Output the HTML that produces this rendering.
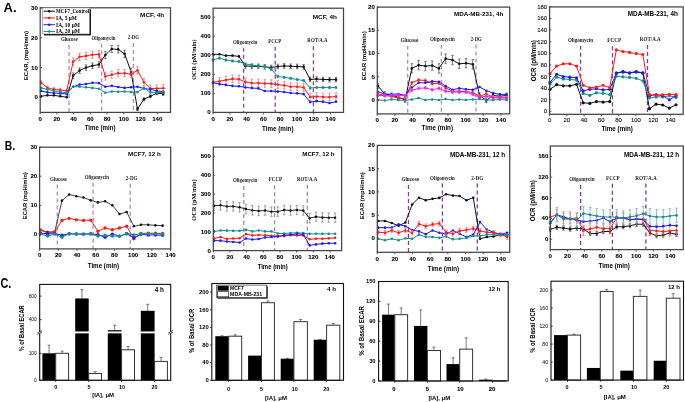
<!DOCTYPE html><html><head><meta charset="utf-8"><style>html,body{margin:0;padding:0;background:#fff;overflow:hidden}svg{display:block;will-change:transform}</style></head><body>
<svg width="685" height="402" viewBox="0 0 685 402">
<rect width="685" height="402" fill="#fff"/>
<text x="3.6" y="11.9" font-size="13" text-anchor="start" font-weight="bold" font-family='"Liberation Sans", sans-serif' fill="#000">A.</text>
<text x="4.8" y="150.2" font-size="13.2" text-anchor="start" font-weight="bold" font-family='"Liberation Sans", sans-serif' fill="#000" textLength="10.4" lengthAdjust="spacingAndGlyphs">B.</text>
<text x="0.4" y="287.6" font-size="13.8" text-anchor="start" font-weight="bold" font-family='"Liberation Sans", sans-serif' fill="#000" textLength="10.9" lengthAdjust="spacingAndGlyphs">C.</text>
<line x1="69" y1="45" x2="69" y2="112.4" stroke="#b088c8" stroke-width="1.3" stroke-dasharray="4 3"/>
<text x="69.25" y="41.1" font-size="5.1" text-anchor="middle" font-weight="bold" font-family='"Liberation Serif", serif' fill="#1a1a1a" textLength="16.7" lengthAdjust="spacingAndGlyphs">Glucose</text>
<line x1="101.6" y1="43.6" x2="101.6" y2="112.4" stroke="#b088c8" stroke-width="1.3" stroke-dasharray="4 3"/>
<text x="103.5" y="39.7" font-size="5.1" text-anchor="middle" font-weight="bold" font-family='"Liberation Serif", serif' fill="#1a1a1a" textLength="23.9" lengthAdjust="spacingAndGlyphs">Oligomycin</text>
<line x1="133.4" y1="43.1" x2="133.4" y2="112.4" stroke="#b088c8" stroke-width="1.3" stroke-dasharray="4 3"/>
<text x="133.4" y="39.2" font-size="5.1" text-anchor="middle" font-weight="bold" font-family='"Liberation Serif", serif' fill="#1a1a1a" textLength="11.4" lengthAdjust="spacingAndGlyphs">2-DG</text>
<path d="M73.16 72.95V78.33M71.96 72.95h2.4M71.96 78.33h2.4" stroke="#555555" stroke-width="0.8" fill="none"/>
<path d="M79.59 67.87V73.25M78.39 67.87h2.4M78.39 73.25h2.4" stroke="#555555" stroke-width="0.8" fill="none"/>
<path d="M86.02 64.88V70.26M84.82 64.88h2.4M84.82 70.26h2.4" stroke="#555555" stroke-width="0.8" fill="none"/>
<path d="M92.45 63.09V68.47M91.25 63.09h2.4M91.25 68.47h2.4" stroke="#555555" stroke-width="0.8" fill="none"/>
<path d="M98.88 61.89V67.27M97.68 61.89h2.4M97.68 67.27h2.4" stroke="#555555" stroke-width="0.8" fill="none"/>
<path d="M105.32 51.43V58.61M104.12 51.43h2.4M104.12 58.61h2.4" stroke="#555555" stroke-width="0.8" fill="none"/>
<path d="M111.75 45.46V52.63M110.55 45.46h2.4M110.55 52.63h2.4" stroke="#555555" stroke-width="0.8" fill="none"/>
<path d="M118.18 45.75V52.93M116.98 45.75h2.4M116.98 52.93h2.4" stroke="#555555" stroke-width="0.8" fill="none"/>
<path d="M124.61 50.24V57.41M123.41 50.24h2.4M123.41 57.41h2.4" stroke="#555555" stroke-width="0.8" fill="none"/>
<path d="M131.04 68.17V75.34M129.84 68.17h2.4M129.84 75.34h2.4" stroke="#555555" stroke-width="0.8" fill="none"/>
<path d="M137.47 107.62V110.61M136.27 107.62h2.4M136.27 110.61h2.4" stroke="#555555" stroke-width="0.8" fill="none"/>
<path d="M143.91 97.76V100.74M142.71 97.76h2.4M142.71 100.74h2.4" stroke="#555555" stroke-width="0.8" fill="none"/>
<path d="M150.34 94.77V97.76M149.14 94.77h2.4M149.14 97.76h2.4" stroke="#555555" stroke-width="0.8" fill="none"/>
<path d="M156.77 91.78V94.77M155.57 91.78h2.4M155.57 94.77h2.4" stroke="#555555" stroke-width="0.8" fill="none"/>
<path d="M163.2 92.38V95.37M162 92.38h2.4M162 95.37h2.4" stroke="#555555" stroke-width="0.8" fill="none"/>
<path d="M41 96.26 L47.43 95.37 L53.86 95.37 L60.29 96.26 L66.73 97.25 L73.16 75.64 L79.59 70.56 L86.02 67.57 L92.45 65.78 L98.88 64.58 L105.32 55.02 L111.75 49.04 L118.18 49.34 L124.61 53.82 L131.04 71.76 L137.47 109.11 L143.91 99.25 L150.34 96.26 L156.77 93.27 L163.2 93.87" stroke="#111111" stroke-width="1" fill="none"/>
<circle cx="41" cy="96.26" r="1.3" fill="#111111"/>
<circle cx="47.43" cy="95.37" r="1.3" fill="#111111"/>
<circle cx="53.86" cy="95.37" r="1.3" fill="#111111"/>
<circle cx="60.29" cy="96.26" r="1.3" fill="#111111"/>
<circle cx="66.73" cy="97.25" r="1.3" fill="#111111"/>
<circle cx="73.16" cy="75.64" r="1.3" fill="#111111"/>
<circle cx="79.59" cy="70.56" r="1.3" fill="#111111"/>
<circle cx="86.02" cy="67.57" r="1.3" fill="#111111"/>
<circle cx="92.45" cy="65.78" r="1.3" fill="#111111"/>
<circle cx="98.88" cy="64.58" r="1.3" fill="#111111"/>
<circle cx="105.32" cy="55.02" r="1.3" fill="#111111"/>
<circle cx="111.75" cy="49.04" r="1.3" fill="#111111"/>
<circle cx="118.18" cy="49.34" r="1.3" fill="#111111"/>
<circle cx="124.61" cy="53.82" r="1.3" fill="#111111"/>
<circle cx="131.04" cy="71.76" r="1.3" fill="#111111"/>
<circle cx="137.47" cy="109.11" r="1.3" fill="#111111"/>
<circle cx="143.91" cy="99.25" r="1.3" fill="#111111"/>
<circle cx="150.34" cy="96.26" r="1.3" fill="#111111"/>
<circle cx="156.77" cy="93.27" r="1.3" fill="#111111"/>
<circle cx="163.2" cy="93.87" r="1.3" fill="#111111"/>
<path d="M41 80.72V84.31M39.8 80.72h2.4M39.8 84.31h2.4" stroke="#ff7070" stroke-width="0.8" fill="none"/>
<path d="M47.43 86.1V89.69M46.23 86.1h2.4M46.23 89.69h2.4" stroke="#ff7070" stroke-width="0.8" fill="none"/>
<path d="M53.86 87.59V91.18M52.66 87.59h2.4M52.66 91.18h2.4" stroke="#ff7070" stroke-width="0.8" fill="none"/>
<path d="M60.29 88.19V91.78M59.09 88.19h2.4M59.09 91.78h2.4" stroke="#ff7070" stroke-width="0.8" fill="none"/>
<path d="M66.73 89.09V92.68M65.53 89.09h2.4M65.53 92.68h2.4" stroke="#ff7070" stroke-width="0.8" fill="none"/>
<path d="M73.16 58.01V65.18M71.96 58.01h2.4M71.96 65.18h2.4" stroke="#ff7070" stroke-width="0.8" fill="none"/>
<path d="M79.59 53.23V60.4M78.39 53.23h2.4M78.39 60.4h2.4" stroke="#ff7070" stroke-width="0.8" fill="none"/>
<path d="M86.02 52.33V59.5M84.82 52.33h2.4M84.82 59.5h2.4" stroke="#ff7070" stroke-width="0.8" fill="none"/>
<path d="M92.45 51.13V58.31M91.25 51.13h2.4M91.25 58.31h2.4" stroke="#ff7070" stroke-width="0.8" fill="none"/>
<path d="M98.88 50.84V58.01M97.68 50.84h2.4M97.68 58.01h2.4" stroke="#ff7070" stroke-width="0.8" fill="none"/>
<path d="M105.32 72.95V80.12M104.12 72.95h2.4M104.12 80.12h2.4" stroke="#ff7070" stroke-width="0.8" fill="none"/>
<path d="M111.75 71.16V78.33M110.55 71.16h2.4M110.55 78.33h2.4" stroke="#ff7070" stroke-width="0.8" fill="none"/>
<path d="M118.18 69.66V76.84M116.98 69.66h2.4M116.98 76.84h2.4" stroke="#ff7070" stroke-width="0.8" fill="none"/>
<path d="M124.61 69.66V76.84M123.41 69.66h2.4M123.41 76.84h2.4" stroke="#ff7070" stroke-width="0.8" fill="none"/>
<path d="M131.04 70.56V77.73M129.84 70.56h2.4M129.84 77.73h2.4" stroke="#ff7070" stroke-width="0.8" fill="none"/>
<path d="M137.47 66.67V73.85M136.27 66.67h2.4M136.27 73.85h2.4" stroke="#ff7070" stroke-width="0.8" fill="none"/>
<path d="M143.91 78.63V85.8M142.71 78.63h2.4M142.71 85.8h2.4" stroke="#ff7070" stroke-width="0.8" fill="none"/>
<path d="M150.34 84.91V92.08M149.14 84.91h2.4M149.14 92.08h2.4" stroke="#ff7070" stroke-width="0.8" fill="none"/>
<path d="M156.77 84.91V92.08M155.57 84.91h2.4M155.57 92.08h2.4" stroke="#ff7070" stroke-width="0.8" fill="none"/>
<path d="M163.2 84.61V91.78M162 84.61h2.4M162 91.78h2.4" stroke="#ff7070" stroke-width="0.8" fill="none"/>
<path d="M41 82.51 L47.43 87.89 L53.86 89.39 L60.29 89.99 L66.73 90.88 L73.16 61.59 L79.59 56.81 L86.02 55.92 L92.45 54.72 L98.88 54.42 L105.32 76.54 L111.75 74.74 L118.18 73.25 L124.61 73.25 L131.04 74.15 L137.47 70.26 L143.91 82.22 L150.34 88.49 L156.77 88.49 L163.2 88.19" stroke="#ff1a1a" stroke-width="1" fill="none"/>
<circle cx="41" cy="82.51" r="1.3" fill="#ff1a1a"/>
<circle cx="47.43" cy="87.89" r="1.3" fill="#ff1a1a"/>
<circle cx="53.86" cy="89.39" r="1.3" fill="#ff1a1a"/>
<circle cx="60.29" cy="89.99" r="1.3" fill="#ff1a1a"/>
<circle cx="66.73" cy="90.88" r="1.3" fill="#ff1a1a"/>
<circle cx="73.16" cy="61.59" r="1.3" fill="#ff1a1a"/>
<circle cx="79.59" cy="56.81" r="1.3" fill="#ff1a1a"/>
<circle cx="86.02" cy="55.92" r="1.3" fill="#ff1a1a"/>
<circle cx="92.45" cy="54.72" r="1.3" fill="#ff1a1a"/>
<circle cx="98.88" cy="54.42" r="1.3" fill="#ff1a1a"/>
<circle cx="105.32" cy="76.54" r="1.3" fill="#ff1a1a"/>
<circle cx="111.75" cy="74.74" r="1.3" fill="#ff1a1a"/>
<circle cx="118.18" cy="73.25" r="1.3" fill="#ff1a1a"/>
<circle cx="124.61" cy="73.25" r="1.3" fill="#ff1a1a"/>
<circle cx="131.04" cy="74.15" r="1.3" fill="#ff1a1a"/>
<circle cx="137.47" cy="70.26" r="1.3" fill="#ff1a1a"/>
<circle cx="143.91" cy="82.22" r="1.3" fill="#ff1a1a"/>
<circle cx="150.34" cy="88.49" r="1.3" fill="#ff1a1a"/>
<circle cx="156.77" cy="88.49" r="1.3" fill="#ff1a1a"/>
<circle cx="163.2" cy="88.19" r="1.3" fill="#ff1a1a"/>
<path d="M41 90.88 L47.43 92.38 L53.86 92.97 L60.29 93.57 L66.73 93.87 L73.16 86.7 L79.59 84.61 L86.02 84.01 L92.45 82.81 L98.88 83.11 L105.32 86.7 L111.75 85.8 L118.18 87 L124.61 87.89 L131.04 87.3 L137.47 86.7 L143.91 88.49 L150.34 89.39 L156.77 90.88 L163.2 91.78" stroke="#1a1aff" stroke-width="1" fill="none"/>
<circle cx="41" cy="90.88" r="1.3" fill="#1a1aff"/>
<circle cx="47.43" cy="92.38" r="1.3" fill="#1a1aff"/>
<circle cx="53.86" cy="92.97" r="1.3" fill="#1a1aff"/>
<circle cx="60.29" cy="93.57" r="1.3" fill="#1a1aff"/>
<circle cx="66.73" cy="93.87" r="1.3" fill="#1a1aff"/>
<circle cx="73.16" cy="86.7" r="1.3" fill="#1a1aff"/>
<circle cx="79.59" cy="84.61" r="1.3" fill="#1a1aff"/>
<circle cx="86.02" cy="84.01" r="1.3" fill="#1a1aff"/>
<circle cx="92.45" cy="82.81" r="1.3" fill="#1a1aff"/>
<circle cx="98.88" cy="83.11" r="1.3" fill="#1a1aff"/>
<circle cx="105.32" cy="86.7" r="1.3" fill="#1a1aff"/>
<circle cx="111.75" cy="85.8" r="1.3" fill="#1a1aff"/>
<circle cx="118.18" cy="87" r="1.3" fill="#1a1aff"/>
<circle cx="124.61" cy="87.89" r="1.3" fill="#1a1aff"/>
<circle cx="131.04" cy="87.3" r="1.3" fill="#1a1aff"/>
<circle cx="137.47" cy="86.7" r="1.3" fill="#1a1aff"/>
<circle cx="143.91" cy="88.49" r="1.3" fill="#1a1aff"/>
<circle cx="150.34" cy="89.39" r="1.3" fill="#1a1aff"/>
<circle cx="156.77" cy="90.88" r="1.3" fill="#1a1aff"/>
<circle cx="163.2" cy="91.78" r="1.3" fill="#1a1aff"/>
<path d="M41 87.89 L47.43 89.39 L53.86 90.88 L60.29 92.08 L66.73 92.68 L73.16 86.7 L79.59 86.7 L86.02 87.3 L92.45 87.89 L98.88 88.79 L105.32 92.68 L111.75 91.48 L118.18 91.78 L124.61 91.48 L131.04 92.08 L137.47 92.08 L143.91 87.89 L150.34 92.38 L156.77 92.68 L163.2 92.38" stroke="#1a8c8c" stroke-width="1" fill="none"/>
<circle cx="41" cy="87.89" r="1.3" fill="#1a8c8c"/>
<circle cx="47.43" cy="89.39" r="1.3" fill="#1a8c8c"/>
<circle cx="53.86" cy="90.88" r="1.3" fill="#1a8c8c"/>
<circle cx="60.29" cy="92.08" r="1.3" fill="#1a8c8c"/>
<circle cx="66.73" cy="92.68" r="1.3" fill="#1a8c8c"/>
<circle cx="73.16" cy="86.7" r="1.3" fill="#1a8c8c"/>
<circle cx="79.59" cy="86.7" r="1.3" fill="#1a8c8c"/>
<circle cx="86.02" cy="87.3" r="1.3" fill="#1a8c8c"/>
<circle cx="92.45" cy="87.89" r="1.3" fill="#1a8c8c"/>
<circle cx="98.88" cy="88.79" r="1.3" fill="#1a8c8c"/>
<circle cx="105.32" cy="92.68" r="1.3" fill="#1a8c8c"/>
<circle cx="111.75" cy="91.48" r="1.3" fill="#1a8c8c"/>
<circle cx="118.18" cy="91.78" r="1.3" fill="#1a8c8c"/>
<circle cx="124.61" cy="91.48" r="1.3" fill="#1a8c8c"/>
<circle cx="131.04" cy="92.08" r="1.3" fill="#1a8c8c"/>
<circle cx="137.47" cy="92.08" r="1.3" fill="#1a8c8c"/>
<circle cx="143.91" cy="87.89" r="1.3" fill="#1a8c8c"/>
<circle cx="150.34" cy="92.38" r="1.3" fill="#1a8c8c"/>
<circle cx="156.77" cy="92.68" r="1.3" fill="#1a8c8c"/>
<circle cx="163.2" cy="92.38" r="1.3" fill="#1a8c8c"/>
<rect x="40.2" y="7.8" width="130.3" height="104.6" fill="none" stroke="#444444" stroke-width="1.25"/>
<line x1="40.1" y1="112.4" x2="40.1" y2="114.4" stroke="#444444" stroke-width="0.9"/>
<text x="40.1" y="120.8" font-size="6.1" text-anchor="middle" font-weight="bold" font-family='"Liberation Sans", sans-serif' fill="#000" stroke="#000" stroke-width="0.08">0</text>
<line x1="56.84" y1="112.4" x2="56.84" y2="114.4" stroke="#444444" stroke-width="0.9"/>
<text x="56.84" y="120.8" font-size="6.1" text-anchor="middle" font-weight="bold" font-family='"Liberation Sans", sans-serif' fill="#000" stroke="#000" stroke-width="0.08">20</text>
<line x1="73.58" y1="112.4" x2="73.58" y2="114.4" stroke="#444444" stroke-width="0.9"/>
<text x="73.58" y="120.8" font-size="6.1" text-anchor="middle" font-weight="bold" font-family='"Liberation Sans", sans-serif' fill="#000" stroke="#000" stroke-width="0.08">40</text>
<line x1="90.32" y1="112.4" x2="90.32" y2="114.4" stroke="#444444" stroke-width="0.9"/>
<text x="90.32" y="120.8" font-size="6.1" text-anchor="middle" font-weight="bold" font-family='"Liberation Sans", sans-serif' fill="#000" stroke="#000" stroke-width="0.08">60</text>
<line x1="107.06" y1="112.4" x2="107.06" y2="114.4" stroke="#444444" stroke-width="0.9"/>
<text x="107.06" y="120.8" font-size="6.1" text-anchor="middle" font-weight="bold" font-family='"Liberation Sans", sans-serif' fill="#000" stroke="#000" stroke-width="0.08">80</text>
<line x1="123.8" y1="112.4" x2="123.8" y2="114.4" stroke="#444444" stroke-width="0.9"/>
<text x="123.8" y="120.8" font-size="6.1" text-anchor="middle" font-weight="bold" font-family='"Liberation Sans", sans-serif' fill="#000" stroke="#000" stroke-width="0.08">100</text>
<line x1="140.54" y1="112.4" x2="140.54" y2="114.4" stroke="#444444" stroke-width="0.9"/>
<text x="140.54" y="120.8" font-size="6.1" text-anchor="middle" font-weight="bold" font-family='"Liberation Sans", sans-serif' fill="#000" stroke="#000" stroke-width="0.08">120</text>
<line x1="157.28" y1="112.4" x2="157.28" y2="114.4" stroke="#444444" stroke-width="0.9"/>
<text x="157.28" y="120.8" font-size="6.1" text-anchor="middle" font-weight="bold" font-family='"Liberation Sans", sans-serif' fill="#000" stroke="#000" stroke-width="0.08">140</text>
<line x1="40.2" y1="97.46" x2="42" y2="97.46" stroke="#444444" stroke-width="0.9"/>
<text x="37.8" y="99.41" font-size="6.1" text-anchor="end" font-weight="bold" font-family='"Liberation Sans", sans-serif' fill="#000" stroke="#000" stroke-width="0.08">0</text>
<line x1="40.2" y1="67.57" x2="42" y2="67.57" stroke="#444444" stroke-width="0.9"/>
<text x="37.8" y="69.52" font-size="6.1" text-anchor="end" font-weight="bold" font-family='"Liberation Sans", sans-serif' fill="#000" stroke="#000" stroke-width="0.08">10</text>
<line x1="40.2" y1="37.69" x2="42" y2="37.69" stroke="#444444" stroke-width="0.9"/>
<text x="37.8" y="39.64" font-size="6.1" text-anchor="end" font-weight="bold" font-family='"Liberation Sans", sans-serif' fill="#000" stroke="#000" stroke-width="0.08">20</text>
<line x1="40.2" y1="7.8" x2="42" y2="7.8" stroke="#444444" stroke-width="0.9"/>
<text x="37.8" y="9.75" font-size="6.1" text-anchor="end" font-weight="bold" font-family='"Liberation Sans", sans-serif' fill="#000" stroke="#000" stroke-width="0.08">30</text>
<text x="164.2" y="16.6" font-size="6.2" text-anchor="end" font-weight="bold" font-family='"Liberation Sans", sans-serif' fill="#000" textLength="24.1" lengthAdjust="spacingAndGlyphs">MCF, 4h</text>
<text x="28.4" y="55.6" font-size="6.1" text-anchor="middle" font-weight="bold" font-family='"Liberation Sans", sans-serif' fill="#000" transform="rotate(-90 28.4 55.6)" textLength="49.2" lengthAdjust="spacingAndGlyphs">ECAR, (mpH/min)</text>
<text x="100.1" y="129.8" font-size="6.5" text-anchor="middle" font-weight="bold" font-family='"Liberation Sans", sans-serif' fill="#000" textLength="30.7" lengthAdjust="spacingAndGlyphs">Time (min)</text>
<line x1="243.6" y1="47.7" x2="243.6" y2="112.4" stroke="#9040b0" stroke-width="1.3" stroke-dasharray="4 3"/>
<text x="245.1" y="43.8" font-size="5.1" text-anchor="middle" font-weight="bold" font-family='"Liberation Serif", serif' fill="#1a1a1a" textLength="24.4" lengthAdjust="spacingAndGlyphs">Oligomycin</text>
<line x1="275.2" y1="46.7" x2="275.2" y2="112.4" stroke="#9040b0" stroke-width="1.3" stroke-dasharray="4 3"/>
<text x="274.8" y="42.8" font-size="5.1" text-anchor="middle" font-weight="bold" font-family='"Liberation Serif", serif' fill="#1a1a1a" textLength="13" lengthAdjust="spacingAndGlyphs">FCCP</text>
<line x1="313.4" y1="46.3" x2="313.4" y2="112.4" stroke="#9040b0" stroke-width="1.3" stroke-dasharray="4 3"/>
<text x="317.5" y="42.4" font-size="5.1" text-anchor="middle" font-weight="bold" font-family='"Liberation Serif", serif' fill="#1a1a1a" textLength="20.3" lengthAdjust="spacingAndGlyphs">ROT/A.A</text>
<path d="M245.37 63.63V68.21M244.17 63.63h2.4M244.17 68.21h2.4" stroke="#555555" stroke-width="0.8" fill="none"/>
<path d="M251.84 64.01V68.59M250.64 64.01h2.4M250.64 68.59h2.4" stroke="#555555" stroke-width="0.8" fill="none"/>
<path d="M258.32 64.01V68.59M257.12 64.01h2.4M257.12 68.59h2.4" stroke="#555555" stroke-width="0.8" fill="none"/>
<path d="M264.79 64.59V69.16M263.59 64.59h2.4M263.59 69.16h2.4" stroke="#555555" stroke-width="0.8" fill="none"/>
<path d="M271.26 65.16V69.73M270.06 65.16h2.4M270.06 69.73h2.4" stroke="#555555" stroke-width="0.8" fill="none"/>
<path d="M277.74 64.21V68.78M276.54 64.21h2.4M276.54 68.78h2.4" stroke="#555555" stroke-width="0.8" fill="none"/>
<path d="M284.21 63.63V68.21M283.01 63.63h2.4M283.01 68.21h2.4" stroke="#555555" stroke-width="0.8" fill="none"/>
<path d="M290.68 64.01V68.59M289.48 64.01h2.4M289.48 68.59h2.4" stroke="#555555" stroke-width="0.8" fill="none"/>
<path d="M297.16 64.21V68.78M295.96 64.21h2.4M295.96 68.78h2.4" stroke="#555555" stroke-width="0.8" fill="none"/>
<path d="M303.63 64.59V69.16M302.43 64.59h2.4M302.43 69.16h2.4" stroke="#555555" stroke-width="0.8" fill="none"/>
<path d="M310.11 77.16V81.73M308.91 77.16h2.4M308.91 81.73h2.4" stroke="#555555" stroke-width="0.8" fill="none"/>
<path d="M316.58 76.78V81.35M315.38 76.78h2.4M315.38 81.35h2.4" stroke="#555555" stroke-width="0.8" fill="none"/>
<path d="M323.05 77.16V81.73M321.85 77.16h2.4M321.85 81.73h2.4" stroke="#555555" stroke-width="0.8" fill="none"/>
<path d="M329.53 77.35V81.92M328.33 77.35h2.4M328.33 81.92h2.4" stroke="#555555" stroke-width="0.8" fill="none"/>
<path d="M336 77.35V81.92M334.8 77.35h2.4M334.8 81.92h2.4" stroke="#555555" stroke-width="0.8" fill="none"/>
<path d="M213 54.3 L219.47 54.3 L225.95 55.63 L232.42 55.63 L238.89 56.39 L245.37 65.92 L251.84 66.3 L258.32 66.3 L264.79 66.87 L271.26 67.44 L277.74 66.49 L284.21 65.92 L290.68 66.3 L297.16 66.49 L303.63 66.87 L310.11 79.44 L316.58 79.06 L323.05 79.44 L329.53 79.64 L336 79.64" stroke="#111111" stroke-width="1" fill="none"/>
<circle cx="213" cy="54.3" r="1.3" fill="#111111"/>
<circle cx="219.47" cy="54.3" r="1.3" fill="#111111"/>
<circle cx="225.95" cy="55.63" r="1.3" fill="#111111"/>
<circle cx="232.42" cy="55.63" r="1.3" fill="#111111"/>
<circle cx="238.89" cy="56.39" r="1.3" fill="#111111"/>
<circle cx="245.37" cy="65.92" r="1.3" fill="#111111"/>
<circle cx="251.84" cy="66.3" r="1.3" fill="#111111"/>
<circle cx="258.32" cy="66.3" r="1.3" fill="#111111"/>
<circle cx="264.79" cy="66.87" r="1.3" fill="#111111"/>
<circle cx="271.26" cy="67.44" r="1.3" fill="#111111"/>
<circle cx="277.74" cy="66.49" r="1.3" fill="#111111"/>
<circle cx="284.21" cy="65.92" r="1.3" fill="#111111"/>
<circle cx="290.68" cy="66.3" r="1.3" fill="#111111"/>
<circle cx="297.16" cy="66.49" r="1.3" fill="#111111"/>
<circle cx="303.63" cy="66.87" r="1.3" fill="#111111"/>
<circle cx="310.11" cy="79.44" r="1.3" fill="#111111"/>
<circle cx="316.58" cy="79.06" r="1.3" fill="#111111"/>
<circle cx="323.05" cy="79.44" r="1.3" fill="#111111"/>
<circle cx="329.53" cy="79.64" r="1.3" fill="#111111"/>
<circle cx="336" cy="79.64" r="1.3" fill="#111111"/>
<path d="M213 58.87V61.16M211.8 58.87h2.4M211.8 61.16h2.4" stroke="#70b0b0" stroke-width="0.8" fill="none"/>
<path d="M219.47 56.97V59.25M218.27 56.97h2.4M218.27 59.25h2.4" stroke="#70b0b0" stroke-width="0.8" fill="none"/>
<path d="M225.95 58.87V61.16M224.75 58.87h2.4M224.75 61.16h2.4" stroke="#70b0b0" stroke-width="0.8" fill="none"/>
<path d="M232.42 59.82V62.11M231.22 59.82h2.4M231.22 62.11h2.4" stroke="#70b0b0" stroke-width="0.8" fill="none"/>
<path d="M238.89 60.4V62.68M237.69 60.4h2.4M237.69 62.68h2.4" stroke="#70b0b0" stroke-width="0.8" fill="none"/>
<path d="M245.37 62.87V65.16M244.17 62.87h2.4M244.17 65.16h2.4" stroke="#70b0b0" stroke-width="0.8" fill="none"/>
<path d="M251.84 63.82V66.11M250.64 63.82h2.4M250.64 66.11h2.4" stroke="#70b0b0" stroke-width="0.8" fill="none"/>
<path d="M258.32 64.78V67.06M257.12 64.78h2.4M257.12 67.06h2.4" stroke="#70b0b0" stroke-width="0.8" fill="none"/>
<path d="M264.79 65.16V67.44M263.59 65.16h2.4M263.59 67.44h2.4" stroke="#70b0b0" stroke-width="0.8" fill="none"/>
<path d="M271.26 68.21V70.49M270.06 68.21h2.4M270.06 70.49h2.4" stroke="#70b0b0" stroke-width="0.8" fill="none"/>
<path d="M277.74 75.25V77.54M276.54 75.25h2.4M276.54 77.54h2.4" stroke="#70b0b0" stroke-width="0.8" fill="none"/>
<path d="M284.21 76.21V78.49M283.01 76.21h2.4M283.01 78.49h2.4" stroke="#70b0b0" stroke-width="0.8" fill="none"/>
<path d="M290.68 77.16V79.44M289.48 77.16h2.4M289.48 79.44h2.4" stroke="#70b0b0" stroke-width="0.8" fill="none"/>
<path d="M297.16 78.3V80.59M295.96 78.3h2.4M295.96 80.59h2.4" stroke="#70b0b0" stroke-width="0.8" fill="none"/>
<path d="M303.63 79.44V81.73M302.43 79.44h2.4M302.43 81.73h2.4" stroke="#70b0b0" stroke-width="0.8" fill="none"/>
<path d="M310.11 86.87V89.16M308.91 86.87h2.4M308.91 89.16h2.4" stroke="#70b0b0" stroke-width="0.8" fill="none"/>
<path d="M316.58 86.3V88.59M315.38 86.3h2.4M315.38 88.59h2.4" stroke="#70b0b0" stroke-width="0.8" fill="none"/>
<path d="M323.05 86.3V88.59M321.85 86.3h2.4M321.85 88.59h2.4" stroke="#70b0b0" stroke-width="0.8" fill="none"/>
<path d="M329.53 86.49V88.78M328.33 86.49h2.4M328.33 88.78h2.4" stroke="#70b0b0" stroke-width="0.8" fill="none"/>
<path d="M336 86.3V88.59M334.8 86.3h2.4M334.8 88.59h2.4" stroke="#70b0b0" stroke-width="0.8" fill="none"/>
<path d="M213 60.01 L219.47 58.11 L225.95 60.01 L232.42 60.97 L238.89 61.54 L245.37 64.01 L251.84 64.97 L258.32 65.92 L264.79 66.3 L271.26 69.35 L277.74 76.4 L284.21 77.35 L290.68 78.3 L297.16 79.44 L303.63 80.59 L310.11 88.02 L316.58 87.45 L323.05 87.45 L329.53 87.64 L336 87.45" stroke="#1a8c8c" stroke-width="1" fill="none"/>
<circle cx="213" cy="60.01" r="1.3" fill="#1a8c8c"/>
<circle cx="219.47" cy="58.11" r="1.3" fill="#1a8c8c"/>
<circle cx="225.95" cy="60.01" r="1.3" fill="#1a8c8c"/>
<circle cx="232.42" cy="60.97" r="1.3" fill="#1a8c8c"/>
<circle cx="238.89" cy="61.54" r="1.3" fill="#1a8c8c"/>
<circle cx="245.37" cy="64.01" r="1.3" fill="#1a8c8c"/>
<circle cx="251.84" cy="64.97" r="1.3" fill="#1a8c8c"/>
<circle cx="258.32" cy="65.92" r="1.3" fill="#1a8c8c"/>
<circle cx="264.79" cy="66.3" r="1.3" fill="#1a8c8c"/>
<circle cx="271.26" cy="69.35" r="1.3" fill="#1a8c8c"/>
<circle cx="277.74" cy="76.4" r="1.3" fill="#1a8c8c"/>
<circle cx="284.21" cy="77.35" r="1.3" fill="#1a8c8c"/>
<circle cx="290.68" cy="78.3" r="1.3" fill="#1a8c8c"/>
<circle cx="297.16" cy="79.44" r="1.3" fill="#1a8c8c"/>
<circle cx="303.63" cy="80.59" r="1.3" fill="#1a8c8c"/>
<circle cx="310.11" cy="88.02" r="1.3" fill="#1a8c8c"/>
<circle cx="316.58" cy="87.45" r="1.3" fill="#1a8c8c"/>
<circle cx="323.05" cy="87.45" r="1.3" fill="#1a8c8c"/>
<circle cx="329.53" cy="87.64" r="1.3" fill="#1a8c8c"/>
<circle cx="336" cy="87.45" r="1.3" fill="#1a8c8c"/>
<path d="M213 78.49V86.11M211.8 78.49h2.4M211.8 86.11h2.4" stroke="#ff7070" stroke-width="0.8" fill="none"/>
<path d="M219.47 77.54V85.16M218.27 77.54h2.4M218.27 85.16h2.4" stroke="#ff7070" stroke-width="0.8" fill="none"/>
<path d="M225.95 76.21V83.83M224.75 76.21h2.4M224.75 83.83h2.4" stroke="#ff7070" stroke-width="0.8" fill="none"/>
<path d="M232.42 75.06V82.68M231.22 75.06h2.4M231.22 82.68h2.4" stroke="#ff7070" stroke-width="0.8" fill="none"/>
<path d="M238.89 75.44V83.06M237.69 75.44h2.4M237.69 83.06h2.4" stroke="#ff7070" stroke-width="0.8" fill="none"/>
<path d="M245.37 78.11V85.73M244.17 78.11h2.4M244.17 85.73h2.4" stroke="#ff7070" stroke-width="0.8" fill="none"/>
<path d="M251.84 79.25V86.87M250.64 79.25h2.4M250.64 86.87h2.4" stroke="#ff7070" stroke-width="0.8" fill="none"/>
<path d="M258.32 79.25V86.87M257.12 79.25h2.4M257.12 86.87h2.4" stroke="#ff7070" stroke-width="0.8" fill="none"/>
<path d="M264.79 79.64V87.25M263.59 79.64h2.4M263.59 87.25h2.4" stroke="#ff7070" stroke-width="0.8" fill="none"/>
<path d="M271.26 79.83V87.45M270.06 79.83h2.4M270.06 87.45h2.4" stroke="#ff7070" stroke-width="0.8" fill="none"/>
<path d="M277.74 80.78V88.4M276.54 80.78h2.4M276.54 88.4h2.4" stroke="#ff7070" stroke-width="0.8" fill="none"/>
<path d="M284.21 81.54V89.16M283.01 81.54h2.4M283.01 89.16h2.4" stroke="#ff7070" stroke-width="0.8" fill="none"/>
<path d="M290.68 82.87V90.49M289.48 82.87h2.4M289.48 90.49h2.4" stroke="#ff7070" stroke-width="0.8" fill="none"/>
<path d="M297.16 82.87V90.49M295.96 82.87h2.4M295.96 90.49h2.4" stroke="#ff7070" stroke-width="0.8" fill="none"/>
<path d="M303.63 83.64V91.26M302.43 83.64h2.4M302.43 91.26h2.4" stroke="#ff7070" stroke-width="0.8" fill="none"/>
<path d="M310.11 93.16V100.78M308.91 93.16h2.4M308.91 100.78h2.4" stroke="#ff7070" stroke-width="0.8" fill="none"/>
<path d="M316.58 92.78V100.4M315.38 92.78h2.4M315.38 100.4h2.4" stroke="#ff7070" stroke-width="0.8" fill="none"/>
<path d="M323.05 93.16V100.78M321.85 93.16h2.4M321.85 100.78h2.4" stroke="#ff7070" stroke-width="0.8" fill="none"/>
<path d="M329.53 93.16V100.78M328.33 93.16h2.4M328.33 100.78h2.4" stroke="#ff7070" stroke-width="0.8" fill="none"/>
<path d="M336 92.78V100.4M334.8 92.78h2.4M334.8 100.4h2.4" stroke="#ff7070" stroke-width="0.8" fill="none"/>
<path d="M213 82.3 L219.47 81.35 L225.95 80.02 L232.42 78.87 L238.89 79.25 L245.37 81.92 L251.84 83.06 L258.32 83.06 L264.79 83.44 L271.26 83.64 L277.74 84.59 L284.21 85.35 L290.68 86.68 L297.16 86.68 L303.63 87.45 L310.11 96.97 L316.58 96.59 L323.05 96.97 L329.53 96.97 L336 96.59" stroke="#ff1a1a" stroke-width="1" fill="none"/>
<circle cx="213" cy="82.3" r="1.3" fill="#ff1a1a"/>
<circle cx="219.47" cy="81.35" r="1.3" fill="#ff1a1a"/>
<circle cx="225.95" cy="80.02" r="1.3" fill="#ff1a1a"/>
<circle cx="232.42" cy="78.87" r="1.3" fill="#ff1a1a"/>
<circle cx="238.89" cy="79.25" r="1.3" fill="#ff1a1a"/>
<circle cx="245.37" cy="81.92" r="1.3" fill="#ff1a1a"/>
<circle cx="251.84" cy="83.06" r="1.3" fill="#ff1a1a"/>
<circle cx="258.32" cy="83.06" r="1.3" fill="#ff1a1a"/>
<circle cx="264.79" cy="83.44" r="1.3" fill="#ff1a1a"/>
<circle cx="271.26" cy="83.64" r="1.3" fill="#ff1a1a"/>
<circle cx="277.74" cy="84.59" r="1.3" fill="#ff1a1a"/>
<circle cx="284.21" cy="85.35" r="1.3" fill="#ff1a1a"/>
<circle cx="290.68" cy="86.68" r="1.3" fill="#ff1a1a"/>
<circle cx="297.16" cy="86.68" r="1.3" fill="#ff1a1a"/>
<circle cx="303.63" cy="87.45" r="1.3" fill="#ff1a1a"/>
<circle cx="310.11" cy="96.97" r="1.3" fill="#ff1a1a"/>
<circle cx="316.58" cy="96.59" r="1.3" fill="#ff1a1a"/>
<circle cx="323.05" cy="96.97" r="1.3" fill="#ff1a1a"/>
<circle cx="329.53" cy="96.97" r="1.3" fill="#ff1a1a"/>
<circle cx="336" cy="96.59" r="1.3" fill="#ff1a1a"/>
<path d="M213 82.68 L219.47 84.02 L225.95 84.97 L232.42 85.92 L238.89 86.3 L245.37 87.45 L251.84 88.02 L258.32 88.4 L264.79 91.06 L271.26 91.06 L277.74 91.45 L284.21 92.02 L290.68 92.97 L297.16 93.35 L303.63 94.11 L310.11 102.11 L316.58 101.16 L323.05 101.73 L329.53 103.07 L336 101.73" stroke="#1a1aff" stroke-width="1" fill="none"/>
<circle cx="213" cy="82.68" r="1.3" fill="#1a1aff"/>
<circle cx="219.47" cy="84.02" r="1.3" fill="#1a1aff"/>
<circle cx="225.95" cy="84.97" r="1.3" fill="#1a1aff"/>
<circle cx="232.42" cy="85.92" r="1.3" fill="#1a1aff"/>
<circle cx="238.89" cy="86.3" r="1.3" fill="#1a1aff"/>
<circle cx="245.37" cy="87.45" r="1.3" fill="#1a1aff"/>
<circle cx="251.84" cy="88.02" r="1.3" fill="#1a1aff"/>
<circle cx="258.32" cy="88.4" r="1.3" fill="#1a1aff"/>
<circle cx="264.79" cy="91.06" r="1.3" fill="#1a1aff"/>
<circle cx="271.26" cy="91.06" r="1.3" fill="#1a1aff"/>
<circle cx="277.74" cy="91.45" r="1.3" fill="#1a1aff"/>
<circle cx="284.21" cy="92.02" r="1.3" fill="#1a1aff"/>
<circle cx="290.68" cy="92.97" r="1.3" fill="#1a1aff"/>
<circle cx="297.16" cy="93.35" r="1.3" fill="#1a1aff"/>
<circle cx="303.63" cy="94.11" r="1.3" fill="#1a1aff"/>
<circle cx="310.11" cy="102.11" r="1.3" fill="#1a1aff"/>
<circle cx="316.58" cy="101.16" r="1.3" fill="#1a1aff"/>
<circle cx="323.05" cy="101.73" r="1.3" fill="#1a1aff"/>
<circle cx="329.53" cy="103.07" r="1.3" fill="#1a1aff"/>
<circle cx="336" cy="101.73" r="1.3" fill="#1a1aff"/>
<rect x="213.1" y="8.2" width="130.4" height="104.2" fill="none" stroke="#444444" stroke-width="1.25"/>
<line x1="213.1" y1="112.4" x2="213.1" y2="114.4" stroke="#444444" stroke-width="0.9"/>
<text x="213.1" y="121" font-size="6.1" text-anchor="middle" font-weight="bold" font-family='"Liberation Sans", sans-serif' fill="#000" stroke="#000" stroke-width="0.08">0</text>
<line x1="229.87" y1="112.4" x2="229.87" y2="114.4" stroke="#444444" stroke-width="0.9"/>
<text x="229.87" y="121" font-size="6.1" text-anchor="middle" font-weight="bold" font-family='"Liberation Sans", sans-serif' fill="#000" stroke="#000" stroke-width="0.08">20</text>
<line x1="246.64" y1="112.4" x2="246.64" y2="114.4" stroke="#444444" stroke-width="0.9"/>
<text x="246.64" y="121" font-size="6.1" text-anchor="middle" font-weight="bold" font-family='"Liberation Sans", sans-serif' fill="#000" stroke="#000" stroke-width="0.08">40</text>
<line x1="263.42" y1="112.4" x2="263.42" y2="114.4" stroke="#444444" stroke-width="0.9"/>
<text x="263.42" y="121" font-size="6.1" text-anchor="middle" font-weight="bold" font-family='"Liberation Sans", sans-serif' fill="#000" stroke="#000" stroke-width="0.08">60</text>
<line x1="280.19" y1="112.4" x2="280.19" y2="114.4" stroke="#444444" stroke-width="0.9"/>
<text x="280.19" y="121" font-size="6.1" text-anchor="middle" font-weight="bold" font-family='"Liberation Sans", sans-serif' fill="#000" stroke="#000" stroke-width="0.08">80</text>
<line x1="296.96" y1="112.4" x2="296.96" y2="114.4" stroke="#444444" stroke-width="0.9"/>
<text x="296.96" y="121" font-size="6.1" text-anchor="middle" font-weight="bold" font-family='"Liberation Sans", sans-serif' fill="#000" stroke="#000" stroke-width="0.08">100</text>
<line x1="313.73" y1="112.4" x2="313.73" y2="114.4" stroke="#444444" stroke-width="0.9"/>
<text x="313.73" y="121" font-size="6.1" text-anchor="middle" font-weight="bold" font-family='"Liberation Sans", sans-serif' fill="#000" stroke="#000" stroke-width="0.08">120</text>
<line x1="330.5" y1="112.4" x2="330.5" y2="114.4" stroke="#444444" stroke-width="0.9"/>
<text x="330.5" y="121" font-size="6.1" text-anchor="middle" font-weight="bold" font-family='"Liberation Sans", sans-serif' fill="#000" stroke="#000" stroke-width="0.08">140</text>
<line x1="213.1" y1="112.4" x2="214.9" y2="112.4" stroke="#444444" stroke-width="0.9"/>
<text x="210.7" y="114.35" font-size="6.1" text-anchor="end" font-weight="bold" font-family='"Liberation Sans", sans-serif' fill="#000" stroke="#000" stroke-width="0.08">0</text>
<line x1="213.1" y1="93.35" x2="214.9" y2="93.35" stroke="#444444" stroke-width="0.9"/>
<text x="210.7" y="95.3" font-size="6.1" text-anchor="end" font-weight="bold" font-family='"Liberation Sans", sans-serif' fill="#000" stroke="#000" stroke-width="0.08">100</text>
<line x1="213.1" y1="74.3" x2="214.9" y2="74.3" stroke="#444444" stroke-width="0.9"/>
<text x="210.7" y="76.25" font-size="6.1" text-anchor="end" font-weight="bold" font-family='"Liberation Sans", sans-serif' fill="#000" stroke="#000" stroke-width="0.08">200</text>
<line x1="213.1" y1="55.25" x2="214.9" y2="55.25" stroke="#444444" stroke-width="0.9"/>
<text x="210.7" y="57.2" font-size="6.1" text-anchor="end" font-weight="bold" font-family='"Liberation Sans", sans-serif' fill="#000" stroke="#000" stroke-width="0.08">300</text>
<line x1="213.1" y1="36.2" x2="214.9" y2="36.2" stroke="#444444" stroke-width="0.9"/>
<text x="210.7" y="38.15" font-size="6.1" text-anchor="end" font-weight="bold" font-family='"Liberation Sans", sans-serif' fill="#000" stroke="#000" stroke-width="0.08">400</text>
<line x1="213.1" y1="17.15" x2="214.9" y2="17.15" stroke="#444444" stroke-width="0.9"/>
<text x="210.7" y="19.1" font-size="6.1" text-anchor="end" font-weight="bold" font-family='"Liberation Sans", sans-serif' fill="#000" stroke="#000" stroke-width="0.08">500</text>
<text x="336.9" y="18.8" font-size="6.2" text-anchor="end" font-weight="bold" font-family='"Liberation Sans", sans-serif' fill="#000" textLength="24.2" lengthAdjust="spacingAndGlyphs">MCF, 4h</text>
<text x="196.27" y="59.6" font-size="6.3" text-anchor="middle" font-weight="bold" font-family='"Liberation Serif", serif' fill="#000" transform="rotate(-90 196.27 59.6)" textLength="40.3" lengthAdjust="spacingAndGlyphs">OCR (pM/min)</text>
<text x="277.8" y="131.1" font-size="6.5" text-anchor="middle" font-weight="bold" font-family='"Liberation Sans", sans-serif' fill="#000" textLength="31.4" lengthAdjust="spacingAndGlyphs">Time (min)</text>
<line x1="407.7" y1="45.8" x2="407.7" y2="113.9" stroke="#b088c8" stroke-width="1.3" stroke-dasharray="4 3"/>
<text x="409.4" y="41.9" font-size="5.1" text-anchor="middle" font-weight="bold" font-family='"Liberation Serif", serif' fill="#1a1a1a" textLength="17.9" lengthAdjust="spacingAndGlyphs">Glucose</text>
<line x1="441.4" y1="44.7" x2="441.4" y2="113.9" stroke="#b088c8" stroke-width="1.3" stroke-dasharray="4 3"/>
<text x="442.4" y="40.8" font-size="5.1" text-anchor="middle" font-weight="bold" font-family='"Liberation Serif", serif' fill="#1a1a1a" textLength="25" lengthAdjust="spacingAndGlyphs">Oligomycin</text>
<line x1="476" y1="44.5" x2="476" y2="113.9" stroke="#b088c8" stroke-width="1.3" stroke-dasharray="4 3"/>
<text x="476.2" y="40.6" font-size="5.1" text-anchor="middle" font-weight="bold" font-family='"Liberation Serif", serif' fill="#1a1a1a" textLength="10.9" lengthAdjust="spacingAndGlyphs">2-DG</text>
<path d="M378 83.72V88.36M376.8 83.72h2.4M376.8 88.36h2.4" stroke="#555555" stroke-width="0.8" fill="none"/>
<path d="M384.77 91.61V96.25M383.57 91.61h2.4M383.57 96.25h2.4" stroke="#555555" stroke-width="0.8" fill="none"/>
<path d="M391.54 93V97.65M390.34 93h2.4M390.34 97.65h2.4" stroke="#555555" stroke-width="0.8" fill="none"/>
<path d="M398.31 94.86V99.51M397.11 94.86h2.4M397.11 99.51h2.4" stroke="#555555" stroke-width="0.8" fill="none"/>
<path d="M405.07 97.65V102.29M403.87 97.65h2.4M403.87 102.29h2.4" stroke="#555555" stroke-width="0.8" fill="none"/>
<path d="M411.84 63.75V73.04M410.64 63.75h2.4M410.64 73.04h2.4" stroke="#555555" stroke-width="0.8" fill="none"/>
<path d="M418.61 60.5V69.79M417.41 60.5h2.4M417.41 69.79h2.4" stroke="#555555" stroke-width="0.8" fill="none"/>
<path d="M425.38 61.43V70.72M424.18 61.43h2.4M424.18 70.72h2.4" stroke="#555555" stroke-width="0.8" fill="none"/>
<path d="M432.15 60.96V70.25M430.95 60.96h2.4M430.95 70.25h2.4" stroke="#555555" stroke-width="0.8" fill="none"/>
<path d="M438.92 63.75V73.04M437.72 63.75h2.4M437.72 73.04h2.4" stroke="#555555" stroke-width="0.8" fill="none"/>
<path d="M445.68 54V63.29M444.48 54h2.4M444.48 63.29h2.4" stroke="#555555" stroke-width="0.8" fill="none"/>
<path d="M452.45 55.39V64.68M451.25 55.39h2.4M451.25 64.68h2.4" stroke="#555555" stroke-width="0.8" fill="none"/>
<path d="M459.22 59.11V68.39M458.02 59.11h2.4M458.02 68.39h2.4" stroke="#555555" stroke-width="0.8" fill="none"/>
<path d="M465.99 58.64V67.93M464.79 58.64h2.4M464.79 67.93h2.4" stroke="#555555" stroke-width="0.8" fill="none"/>
<path d="M472.76 59.57V68.86M471.56 59.57h2.4M471.56 68.86h2.4" stroke="#555555" stroke-width="0.8" fill="none"/>
<path d="M479.53 93V97.65M478.33 93h2.4M478.33 97.65h2.4" stroke="#555555" stroke-width="0.8" fill="none"/>
<path d="M486.29 98.11V102.76M485.09 98.11h2.4M485.09 102.76h2.4" stroke="#555555" stroke-width="0.8" fill="none"/>
<path d="M493.06 93V97.65M491.86 93h2.4M491.86 97.65h2.4" stroke="#555555" stroke-width="0.8" fill="none"/>
<path d="M499.83 93.93V98.58M498.63 93.93h2.4M498.63 98.58h2.4" stroke="#555555" stroke-width="0.8" fill="none"/>
<path d="M506.6 93V97.65M505.4 93h2.4M505.4 97.65h2.4" stroke="#555555" stroke-width="0.8" fill="none"/>
<path d="M378 86.04 L384.77 93.93 L391.54 95.33 L398.31 97.18 L405.07 99.97 L411.84 68.39 L418.61 65.14 L425.38 66.07 L432.15 65.61 L438.92 68.39 L445.68 58.64 L452.45 60.04 L459.22 63.75 L465.99 63.29 L472.76 64.21 L479.53 95.33 L486.29 100.43 L493.06 95.33 L499.83 96.25 L506.6 95.33" stroke="#111111" stroke-width="1" fill="none"/>
<circle cx="378" cy="86.04" r="1.3" fill="#111111"/>
<circle cx="384.77" cy="93.93" r="1.3" fill="#111111"/>
<circle cx="391.54" cy="95.33" r="1.3" fill="#111111"/>
<circle cx="398.31" cy="97.18" r="1.3" fill="#111111"/>
<circle cx="405.07" cy="99.97" r="1.3" fill="#111111"/>
<circle cx="411.84" cy="68.39" r="1.3" fill="#111111"/>
<circle cx="418.61" cy="65.14" r="1.3" fill="#111111"/>
<circle cx="425.38" cy="66.07" r="1.3" fill="#111111"/>
<circle cx="432.15" cy="65.61" r="1.3" fill="#111111"/>
<circle cx="438.92" cy="68.39" r="1.3" fill="#111111"/>
<circle cx="445.68" cy="58.64" r="1.3" fill="#111111"/>
<circle cx="452.45" cy="60.04" r="1.3" fill="#111111"/>
<circle cx="459.22" cy="63.75" r="1.3" fill="#111111"/>
<circle cx="465.99" cy="63.29" r="1.3" fill="#111111"/>
<circle cx="472.76" cy="64.21" r="1.3" fill="#111111"/>
<circle cx="479.53" cy="95.33" r="1.3" fill="#111111"/>
<circle cx="486.29" cy="100.43" r="1.3" fill="#111111"/>
<circle cx="493.06" cy="95.33" r="1.3" fill="#111111"/>
<circle cx="499.83" cy="96.25" r="1.3" fill="#111111"/>
<circle cx="506.6" cy="95.33" r="1.3" fill="#111111"/>
<path d="M378 93.93V96.72M376.8 93.93h2.4M376.8 96.72h2.4" stroke="#ff7070" stroke-width="0.8" fill="none"/>
<path d="M384.77 94.4V97.18M383.57 94.4h2.4M383.57 97.18h2.4" stroke="#ff7070" stroke-width="0.8" fill="none"/>
<path d="M391.54 94.86V97.65M390.34 94.86h2.4M390.34 97.65h2.4" stroke="#ff7070" stroke-width="0.8" fill="none"/>
<path d="M398.31 96.72V99.51M397.11 96.72h2.4M397.11 99.51h2.4" stroke="#ff7070" stroke-width="0.8" fill="none"/>
<path d="M405.07 97.18V99.97M403.87 97.18h2.4M403.87 99.97h2.4" stroke="#ff7070" stroke-width="0.8" fill="none"/>
<path d="M411.84 81.4V84.18M410.64 81.4h2.4M410.64 84.18h2.4" stroke="#ff7070" stroke-width="0.8" fill="none"/>
<path d="M418.61 78.61V81.4M417.41 78.61h2.4M417.41 81.4h2.4" stroke="#ff7070" stroke-width="0.8" fill="none"/>
<path d="M425.38 79.07V81.86M424.18 79.07h2.4M424.18 81.86h2.4" stroke="#ff7070" stroke-width="0.8" fill="none"/>
<path d="M432.15 82.32V85.11M430.95 82.32h2.4M430.95 85.11h2.4" stroke="#ff7070" stroke-width="0.8" fill="none"/>
<path d="M438.92 81.86V84.65M437.72 81.86h2.4M437.72 84.65h2.4" stroke="#ff7070" stroke-width="0.8" fill="none"/>
<path d="M445.68 86.5V89.29M444.48 86.5h2.4M444.48 89.29h2.4" stroke="#ff7070" stroke-width="0.8" fill="none"/>
<path d="M452.45 89.75V92.54M451.25 89.75h2.4M451.25 92.54h2.4" stroke="#ff7070" stroke-width="0.8" fill="none"/>
<path d="M459.22 89.75V92.54M458.02 89.75h2.4M458.02 92.54h2.4" stroke="#ff7070" stroke-width="0.8" fill="none"/>
<path d="M465.99 90.22V93M464.79 90.22h2.4M464.79 93h2.4" stroke="#ff7070" stroke-width="0.8" fill="none"/>
<path d="M472.76 91.15V93.93M471.56 91.15h2.4M471.56 93.93h2.4" stroke="#ff7070" stroke-width="0.8" fill="none"/>
<path d="M479.53 94.86V97.65M478.33 94.86h2.4M478.33 97.65h2.4" stroke="#ff7070" stroke-width="0.8" fill="none"/>
<path d="M486.29 92.54V95.33M485.09 92.54h2.4M485.09 95.33h2.4" stroke="#ff7070" stroke-width="0.8" fill="none"/>
<path d="M493.06 95.79V98.58M491.86 95.79h2.4M491.86 98.58h2.4" stroke="#ff7070" stroke-width="0.8" fill="none"/>
<path d="M499.83 95.79V98.58M498.63 95.79h2.4M498.63 98.58h2.4" stroke="#ff7070" stroke-width="0.8" fill="none"/>
<path d="M506.6 95.79V98.58M505.4 95.79h2.4M505.4 98.58h2.4" stroke="#ff7070" stroke-width="0.8" fill="none"/>
<path d="M378 95.33 L384.77 95.79 L391.54 96.25 L398.31 98.11 L405.07 98.58 L411.84 82.79 L418.61 80 L425.38 80.47 L432.15 83.72 L438.92 83.25 L445.68 87.9 L452.45 91.15 L459.22 91.15 L465.99 91.61 L472.76 92.54 L479.53 96.25 L486.29 93.93 L493.06 97.18 L499.83 97.18 L506.6 97.18" stroke="#ff1a1a" stroke-width="1" fill="none"/>
<circle cx="378" cy="95.33" r="1.3" fill="#ff1a1a"/>
<circle cx="384.77" cy="95.79" r="1.3" fill="#ff1a1a"/>
<circle cx="391.54" cy="96.25" r="1.3" fill="#ff1a1a"/>
<circle cx="398.31" cy="98.11" r="1.3" fill="#ff1a1a"/>
<circle cx="405.07" cy="98.58" r="1.3" fill="#ff1a1a"/>
<circle cx="411.84" cy="82.79" r="1.3" fill="#ff1a1a"/>
<circle cx="418.61" cy="80" r="1.3" fill="#ff1a1a"/>
<circle cx="425.38" cy="80.47" r="1.3" fill="#ff1a1a"/>
<circle cx="432.15" cy="83.72" r="1.3" fill="#ff1a1a"/>
<circle cx="438.92" cy="83.25" r="1.3" fill="#ff1a1a"/>
<circle cx="445.68" cy="87.9" r="1.3" fill="#ff1a1a"/>
<circle cx="452.45" cy="91.15" r="1.3" fill="#ff1a1a"/>
<circle cx="459.22" cy="91.15" r="1.3" fill="#ff1a1a"/>
<circle cx="465.99" cy="91.61" r="1.3" fill="#ff1a1a"/>
<circle cx="472.76" cy="92.54" r="1.3" fill="#ff1a1a"/>
<circle cx="479.53" cy="96.25" r="1.3" fill="#ff1a1a"/>
<circle cx="486.29" cy="93.93" r="1.3" fill="#ff1a1a"/>
<circle cx="493.06" cy="97.18" r="1.3" fill="#ff1a1a"/>
<circle cx="499.83" cy="97.18" r="1.3" fill="#ff1a1a"/>
<circle cx="506.6" cy="97.18" r="1.3" fill="#ff1a1a"/>
<path d="M378 92.08 L384.77 93.93 L391.54 94.4 L398.31 93.93 L405.07 95.33 L411.84 87.43 L418.61 82.79 L425.38 82.79 L432.15 81.4 L438.92 81.86 L445.68 86.04 L452.45 89.75 L459.22 88.36 L465.99 89.29 L472.76 89.75 L479.53 86.97 L486.29 90.68 L493.06 93 L499.83 94.4 L506.6 94.4" stroke="#1a1aff" stroke-width="1" fill="none"/>
<circle cx="378" cy="92.08" r="1.3" fill="#1a1aff"/>
<circle cx="384.77" cy="93.93" r="1.3" fill="#1a1aff"/>
<circle cx="391.54" cy="94.4" r="1.3" fill="#1a1aff"/>
<circle cx="398.31" cy="93.93" r="1.3" fill="#1a1aff"/>
<circle cx="405.07" cy="95.33" r="1.3" fill="#1a1aff"/>
<circle cx="411.84" cy="87.43" r="1.3" fill="#1a1aff"/>
<circle cx="418.61" cy="82.79" r="1.3" fill="#1a1aff"/>
<circle cx="425.38" cy="82.79" r="1.3" fill="#1a1aff"/>
<circle cx="432.15" cy="81.4" r="1.3" fill="#1a1aff"/>
<circle cx="438.92" cy="81.86" r="1.3" fill="#1a1aff"/>
<circle cx="445.68" cy="86.04" r="1.3" fill="#1a1aff"/>
<circle cx="452.45" cy="89.75" r="1.3" fill="#1a1aff"/>
<circle cx="459.22" cy="88.36" r="1.3" fill="#1a1aff"/>
<circle cx="465.99" cy="89.29" r="1.3" fill="#1a1aff"/>
<circle cx="472.76" cy="89.75" r="1.3" fill="#1a1aff"/>
<circle cx="479.53" cy="86.97" r="1.3" fill="#1a1aff"/>
<circle cx="486.29" cy="90.68" r="1.3" fill="#1a1aff"/>
<circle cx="493.06" cy="93" r="1.3" fill="#1a1aff"/>
<circle cx="499.83" cy="94.4" r="1.3" fill="#1a1aff"/>
<circle cx="506.6" cy="94.4" r="1.3" fill="#1a1aff"/>
<path d="M378 92.54V95.33M376.8 92.54h2.4M376.8 95.33h2.4" stroke="#f070f0" stroke-width="0.8" fill="none"/>
<path d="M384.77 93.93V96.72M383.57 93.93h2.4M383.57 96.72h2.4" stroke="#f070f0" stroke-width="0.8" fill="none"/>
<path d="M391.54 94.4V97.18M390.34 94.4h2.4M390.34 97.18h2.4" stroke="#f070f0" stroke-width="0.8" fill="none"/>
<path d="M398.31 93.93V96.72M397.11 93.93h2.4M397.11 96.72h2.4" stroke="#f070f0" stroke-width="0.8" fill="none"/>
<path d="M405.07 94.4V97.18M403.87 94.4h2.4M403.87 97.18h2.4" stroke="#f070f0" stroke-width="0.8" fill="none"/>
<path d="M411.84 88.83V91.61M410.64 88.83h2.4M410.64 91.61h2.4" stroke="#f070f0" stroke-width="0.8" fill="none"/>
<path d="M418.61 86.97V89.75M417.41 86.97h2.4M417.41 89.75h2.4" stroke="#f070f0" stroke-width="0.8" fill="none"/>
<path d="M425.38 86.5V89.29M424.18 86.5h2.4M424.18 89.29h2.4" stroke="#f070f0" stroke-width="0.8" fill="none"/>
<path d="M432.15 88.36V91.15M430.95 88.36h2.4M430.95 91.15h2.4" stroke="#f070f0" stroke-width="0.8" fill="none"/>
<path d="M438.92 86.97V89.75M437.72 86.97h2.4M437.72 89.75h2.4" stroke="#f070f0" stroke-width="0.8" fill="none"/>
<path d="M445.68 89.75V92.54M444.48 89.75h2.4M444.48 92.54h2.4" stroke="#f070f0" stroke-width="0.8" fill="none"/>
<path d="M452.45 90.68V93.47M451.25 90.68h2.4M451.25 93.47h2.4" stroke="#f070f0" stroke-width="0.8" fill="none"/>
<path d="M459.22 90.68V93.47M458.02 90.68h2.4M458.02 93.47h2.4" stroke="#f070f0" stroke-width="0.8" fill="none"/>
<path d="M465.99 90.68V93.47M464.79 90.68h2.4M464.79 93.47h2.4" stroke="#f070f0" stroke-width="0.8" fill="none"/>
<path d="M472.76 93V95.79M471.56 93h2.4M471.56 95.79h2.4" stroke="#f070f0" stroke-width="0.8" fill="none"/>
<path d="M479.53 95.79V98.58M478.33 95.79h2.4M478.33 98.58h2.4" stroke="#f070f0" stroke-width="0.8" fill="none"/>
<path d="M486.29 94.86V97.65M485.09 94.86h2.4M485.09 97.65h2.4" stroke="#f070f0" stroke-width="0.8" fill="none"/>
<path d="M493.06 96.25V99.04M491.86 96.25h2.4M491.86 99.04h2.4" stroke="#f070f0" stroke-width="0.8" fill="none"/>
<path d="M499.83 96.72V99.51M498.63 96.72h2.4M498.63 99.51h2.4" stroke="#f070f0" stroke-width="0.8" fill="none"/>
<path d="M506.6 96.72V99.51M505.4 96.72h2.4M505.4 99.51h2.4" stroke="#f070f0" stroke-width="0.8" fill="none"/>
<path d="M378 93.93 L384.77 95.33 L391.54 95.79 L398.31 95.33 L405.07 95.79 L411.84 90.22 L418.61 88.36 L425.38 87.9 L432.15 89.75 L438.92 88.36 L445.68 91.15 L452.45 92.08 L459.22 92.08 L465.99 92.08 L472.76 94.4 L479.53 97.18 L486.29 96.25 L493.06 97.65 L499.83 98.11 L506.6 98.11" stroke="#ee22ee" stroke-width="1" fill="none"/>
<circle cx="378" cy="93.93" r="1.3" fill="#ee22ee"/>
<circle cx="384.77" cy="95.33" r="1.3" fill="#ee22ee"/>
<circle cx="391.54" cy="95.79" r="1.3" fill="#ee22ee"/>
<circle cx="398.31" cy="95.33" r="1.3" fill="#ee22ee"/>
<circle cx="405.07" cy="95.79" r="1.3" fill="#ee22ee"/>
<circle cx="411.84" cy="90.22" r="1.3" fill="#ee22ee"/>
<circle cx="418.61" cy="88.36" r="1.3" fill="#ee22ee"/>
<circle cx="425.38" cy="87.9" r="1.3" fill="#ee22ee"/>
<circle cx="432.15" cy="89.75" r="1.3" fill="#ee22ee"/>
<circle cx="438.92" cy="88.36" r="1.3" fill="#ee22ee"/>
<circle cx="445.68" cy="91.15" r="1.3" fill="#ee22ee"/>
<circle cx="452.45" cy="92.08" r="1.3" fill="#ee22ee"/>
<circle cx="459.22" cy="92.08" r="1.3" fill="#ee22ee"/>
<circle cx="465.99" cy="92.08" r="1.3" fill="#ee22ee"/>
<circle cx="472.76" cy="94.4" r="1.3" fill="#ee22ee"/>
<circle cx="479.53" cy="97.18" r="1.3" fill="#ee22ee"/>
<circle cx="486.29" cy="96.25" r="1.3" fill="#ee22ee"/>
<circle cx="493.06" cy="97.65" r="1.3" fill="#ee22ee"/>
<circle cx="499.83" cy="98.11" r="1.3" fill="#ee22ee"/>
<circle cx="506.6" cy="98.11" r="1.3" fill="#ee22ee"/>
<path d="M378 99.97 L384.77 100.43 L391.54 99.51 L398.31 99.97 L405.07 100.43 L411.84 99.51 L418.61 98.11 L425.38 99.97 L432.15 99.51 L438.92 99.97 L445.68 99.04 L452.45 99.97 L459.22 99.51 L465.99 99.97 L472.76 99.51 L479.53 99.04 L486.29 99.97 L493.06 99.97 L499.83 99.51 L506.6 99.97" stroke="#1a8c8c" stroke-width="1" fill="none"/>
<circle cx="378" cy="99.97" r="1.3" fill="#1a8c8c"/>
<circle cx="384.77" cy="100.43" r="1.3" fill="#1a8c8c"/>
<circle cx="391.54" cy="99.51" r="1.3" fill="#1a8c8c"/>
<circle cx="398.31" cy="99.97" r="1.3" fill="#1a8c8c"/>
<circle cx="405.07" cy="100.43" r="1.3" fill="#1a8c8c"/>
<circle cx="411.84" cy="99.51" r="1.3" fill="#1a8c8c"/>
<circle cx="418.61" cy="98.11" r="1.3" fill="#1a8c8c"/>
<circle cx="425.38" cy="99.97" r="1.3" fill="#1a8c8c"/>
<circle cx="432.15" cy="99.51" r="1.3" fill="#1a8c8c"/>
<circle cx="438.92" cy="99.97" r="1.3" fill="#1a8c8c"/>
<circle cx="445.68" cy="99.04" r="1.3" fill="#1a8c8c"/>
<circle cx="452.45" cy="99.97" r="1.3" fill="#1a8c8c"/>
<circle cx="459.22" cy="99.51" r="1.3" fill="#1a8c8c"/>
<circle cx="465.99" cy="99.97" r="1.3" fill="#1a8c8c"/>
<circle cx="472.76" cy="99.51" r="1.3" fill="#1a8c8c"/>
<circle cx="479.53" cy="99.04" r="1.3" fill="#1a8c8c"/>
<circle cx="486.29" cy="99.97" r="1.3" fill="#1a8c8c"/>
<circle cx="493.06" cy="99.97" r="1.3" fill="#1a8c8c"/>
<circle cx="499.83" cy="99.51" r="1.3" fill="#1a8c8c"/>
<circle cx="506.6" cy="99.97" r="1.3" fill="#1a8c8c"/>
<rect x="377.3" y="7.1" width="132.4" height="106.8" fill="none" stroke="#444444" stroke-width="1.25"/>
<line x1="377.2" y1="113.9" x2="377.2" y2="115.9" stroke="#444444" stroke-width="0.9"/>
<text x="377.2" y="122" font-size="6.1" text-anchor="middle" font-weight="bold" font-family='"Liberation Sans", sans-serif' fill="#000" stroke="#000" stroke-width="0.08">0</text>
<line x1="394.88" y1="113.9" x2="394.88" y2="115.9" stroke="#444444" stroke-width="0.9"/>
<text x="394.88" y="122" font-size="6.1" text-anchor="middle" font-weight="bold" font-family='"Liberation Sans", sans-serif' fill="#000" stroke="#000" stroke-width="0.08">20</text>
<line x1="412.56" y1="113.9" x2="412.56" y2="115.9" stroke="#444444" stroke-width="0.9"/>
<text x="412.56" y="122" font-size="6.1" text-anchor="middle" font-weight="bold" font-family='"Liberation Sans", sans-serif' fill="#000" stroke="#000" stroke-width="0.08">40</text>
<line x1="430.24" y1="113.9" x2="430.24" y2="115.9" stroke="#444444" stroke-width="0.9"/>
<text x="430.24" y="122" font-size="6.1" text-anchor="middle" font-weight="bold" font-family='"Liberation Sans", sans-serif' fill="#000" stroke="#000" stroke-width="0.08">60</text>
<line x1="447.92" y1="113.9" x2="447.92" y2="115.9" stroke="#444444" stroke-width="0.9"/>
<text x="447.92" y="122" font-size="6.1" text-anchor="middle" font-weight="bold" font-family='"Liberation Sans", sans-serif' fill="#000" stroke="#000" stroke-width="0.08">80</text>
<line x1="465.6" y1="113.9" x2="465.6" y2="115.9" stroke="#444444" stroke-width="0.9"/>
<text x="465.6" y="122" font-size="6.1" text-anchor="middle" font-weight="bold" font-family='"Liberation Sans", sans-serif' fill="#000" stroke="#000" stroke-width="0.08">100</text>
<line x1="483.28" y1="113.9" x2="483.28" y2="115.9" stroke="#444444" stroke-width="0.9"/>
<text x="483.28" y="122" font-size="6.1" text-anchor="middle" font-weight="bold" font-family='"Liberation Sans", sans-serif' fill="#000" stroke="#000" stroke-width="0.08">120</text>
<line x1="500.96" y1="113.9" x2="500.96" y2="115.9" stroke="#444444" stroke-width="0.9"/>
<text x="500.96" y="122" font-size="6.1" text-anchor="middle" font-weight="bold" font-family='"Liberation Sans", sans-serif' fill="#000" stroke="#000" stroke-width="0.08">140</text>
<line x1="377.3" y1="99.97" x2="379.1" y2="99.97" stroke="#444444" stroke-width="0.9"/>
<text x="374.9" y="101.92" font-size="6.1" text-anchor="end" font-weight="bold" font-family='"Liberation Sans", sans-serif' fill="#000" stroke="#000" stroke-width="0.08">0</text>
<line x1="377.3" y1="76.75" x2="379.1" y2="76.75" stroke="#444444" stroke-width="0.9"/>
<text x="374.9" y="78.7" font-size="6.1" text-anchor="end" font-weight="bold" font-family='"Liberation Sans", sans-serif' fill="#000" stroke="#000" stroke-width="0.08">5</text>
<line x1="377.3" y1="53.53" x2="379.1" y2="53.53" stroke="#444444" stroke-width="0.9"/>
<text x="374.9" y="55.48" font-size="6.1" text-anchor="end" font-weight="bold" font-family='"Liberation Sans", sans-serif' fill="#000" stroke="#000" stroke-width="0.08">10</text>
<line x1="377.3" y1="30.32" x2="379.1" y2="30.32" stroke="#444444" stroke-width="0.9"/>
<text x="374.9" y="32.27" font-size="6.1" text-anchor="end" font-weight="bold" font-family='"Liberation Sans", sans-serif' fill="#000" stroke="#000" stroke-width="0.08">15</text>
<line x1="377.3" y1="7.1" x2="379.1" y2="7.1" stroke="#444444" stroke-width="0.9"/>
<text x="374.9" y="9.05" font-size="6.1" text-anchor="end" font-weight="bold" font-family='"Liberation Sans", sans-serif' fill="#000" stroke="#000" stroke-width="0.08">20</text>
<text x="503.2" y="15.7" font-size="6.24" text-anchor="end" font-weight="bold" font-family='"Liberation Sans", sans-serif' fill="#000" textLength="49.2" lengthAdjust="spacingAndGlyphs">MDA-MB-231, 4h</text>
<text x="366.33" y="55.7" font-size="6.2" text-anchor="middle" font-weight="bold" font-family='"Liberation Sans", sans-serif' fill="#000" transform="rotate(-90 366.33 55.7)" textLength="49" lengthAdjust="spacingAndGlyphs">ECAR (mpH/min)</text>
<text x="437.3" y="130.4" font-size="6.5" text-anchor="middle" font-weight="bold" font-family='"Liberation Sans", sans-serif' fill="#000" textLength="31.4" lengthAdjust="spacingAndGlyphs">Time (min)</text>
<line x1="580.6" y1="45.8" x2="580.6" y2="114.3" stroke="#8a35a8" stroke-width="1.3" stroke-dasharray="4 3"/>
<text x="580.5" y="41.9" font-size="5.1" text-anchor="middle" font-weight="bold" font-family='"Liberation Serif", serif' fill="#1a1a1a" textLength="25.2" lengthAdjust="spacingAndGlyphs">Oligomycin</text>
<line x1="612.5" y1="46.25" x2="612.5" y2="114.3" stroke="#8a35a8" stroke-width="1.3" stroke-dasharray="4 3"/>
<text x="614.2" y="42.35" font-size="5.1" text-anchor="middle" font-weight="bold" font-family='"Liberation Serif", serif' fill="#1a1a1a" textLength="13.7" lengthAdjust="spacingAndGlyphs">FCCP</text>
<line x1="647.5" y1="45" x2="647.5" y2="114.3" stroke="#8a35a8" stroke-width="1.3" stroke-dasharray="4 3"/>
<text x="650.3" y="41.1" font-size="5.1" text-anchor="middle" font-weight="bold" font-family='"Liberation Serif", serif' fill="#1a1a1a" textLength="20.9" lengthAdjust="spacingAndGlyphs">ROT/A.A</text>
<path d="M550 89.34 L556.63 84.69 L563.26 85.85 L569.89 85.85 L576.53 84.29 L583.16 102.81 L589.79 103.39 L596.42 101.53 L603.05 102.11 L609.68 101.53 L616.32 73.08 L622.95 71.92 L629.58 73.08 L636.21 71.92 L642.84 73.08 L649.47 108.67 L656.11 104.2 L662.74 105.01 L669.37 108.09 L676 104.78" stroke="#111111" stroke-width="1" fill="none"/>
<circle cx="550" cy="89.34" r="1.6" fill="#111111"/>
<circle cx="556.63" cy="84.69" r="1.6" fill="#111111"/>
<circle cx="563.26" cy="85.85" r="1.6" fill="#111111"/>
<circle cx="569.89" cy="85.85" r="1.6" fill="#111111"/>
<circle cx="576.53" cy="84.29" r="1.6" fill="#111111"/>
<circle cx="583.16" cy="102.81" r="1.6" fill="#111111"/>
<circle cx="589.79" cy="103.39" r="1.6" fill="#111111"/>
<circle cx="596.42" cy="101.53" r="1.6" fill="#111111"/>
<circle cx="603.05" cy="102.11" r="1.6" fill="#111111"/>
<circle cx="609.68" cy="101.53" r="1.6" fill="#111111"/>
<circle cx="616.32" cy="73.08" r="1.6" fill="#111111"/>
<circle cx="622.95" cy="71.92" r="1.6" fill="#111111"/>
<circle cx="629.58" cy="73.08" r="1.6" fill="#111111"/>
<circle cx="636.21" cy="71.92" r="1.6" fill="#111111"/>
<circle cx="642.84" cy="73.08" r="1.6" fill="#111111"/>
<circle cx="649.47" cy="108.67" r="1.6" fill="#111111"/>
<circle cx="656.11" cy="104.2" r="1.6" fill="#111111"/>
<circle cx="662.74" cy="105.01" r="1.6" fill="#111111"/>
<circle cx="669.37" cy="108.09" r="1.6" fill="#111111"/>
<circle cx="676" cy="104.78" r="1.6" fill="#111111"/>
<path d="M550 84.11 L556.63 77.15 L563.26 78.89 L569.89 79.47 L576.53 80.05 L583.16 93.4 L589.79 95.37 L596.42 92.82 L603.05 93.4 L609.68 94.56 L616.32 76.27 L622.95 76.86 L629.58 77.44 L636.21 78.31 L642.84 80.86 L649.47 97.81 L656.11 96.88 L662.74 96.88 L669.37 95.72 L676 97.46" stroke="#1a8c8c" stroke-width="1" fill="none"/>
<circle cx="550" cy="84.11" r="1.6" fill="#1a8c8c"/>
<circle cx="556.63" cy="77.15" r="1.6" fill="#1a8c8c"/>
<circle cx="563.26" cy="78.89" r="1.6" fill="#1a8c8c"/>
<circle cx="569.89" cy="79.47" r="1.6" fill="#1a8c8c"/>
<circle cx="576.53" cy="80.05" r="1.6" fill="#1a8c8c"/>
<circle cx="583.16" cy="93.4" r="1.6" fill="#1a8c8c"/>
<circle cx="589.79" cy="95.37" r="1.6" fill="#1a8c8c"/>
<circle cx="596.42" cy="92.82" r="1.6" fill="#1a8c8c"/>
<circle cx="603.05" cy="93.4" r="1.6" fill="#1a8c8c"/>
<circle cx="609.68" cy="94.56" r="1.6" fill="#1a8c8c"/>
<circle cx="616.32" cy="76.27" r="1.6" fill="#1a8c8c"/>
<circle cx="622.95" cy="76.86" r="1.6" fill="#1a8c8c"/>
<circle cx="629.58" cy="77.44" r="1.6" fill="#1a8c8c"/>
<circle cx="636.21" cy="78.31" r="1.6" fill="#1a8c8c"/>
<circle cx="642.84" cy="80.86" r="1.6" fill="#1a8c8c"/>
<circle cx="649.47" cy="97.81" r="1.6" fill="#1a8c8c"/>
<circle cx="656.11" cy="96.88" r="1.6" fill="#1a8c8c"/>
<circle cx="662.74" cy="96.88" r="1.6" fill="#1a8c8c"/>
<circle cx="669.37" cy="95.72" r="1.6" fill="#1a8c8c"/>
<circle cx="676" cy="97.46" r="1.6" fill="#1a8c8c"/>
<path d="M550 82.37 L556.63 74.24 L563.26 76.56 L569.89 77.15 L576.53 77.73 L583.16 90.79 L589.79 89.34 L596.42 88.76 L603.05 89.92 L609.68 89.34 L616.32 73.08 L622.95 71.63 L629.58 72.79 L636.21 71.63 L642.84 72.79 L649.47 95.72 L656.11 94.56 L662.74 95.72 L669.37 99.79 L676 95.72" stroke="#1a1aff" stroke-width="1" fill="none"/>
<circle cx="550" cy="82.37" r="1.6" fill="#1a1aff"/>
<circle cx="556.63" cy="74.24" r="1.6" fill="#1a1aff"/>
<circle cx="563.26" cy="76.56" r="1.6" fill="#1a1aff"/>
<circle cx="569.89" cy="77.15" r="1.6" fill="#1a1aff"/>
<circle cx="576.53" cy="77.73" r="1.6" fill="#1a1aff"/>
<circle cx="583.16" cy="90.79" r="1.6" fill="#1a1aff"/>
<circle cx="589.79" cy="89.34" r="1.6" fill="#1a1aff"/>
<circle cx="596.42" cy="88.76" r="1.6" fill="#1a1aff"/>
<circle cx="603.05" cy="89.92" r="1.6" fill="#1a1aff"/>
<circle cx="609.68" cy="89.34" r="1.6" fill="#1a1aff"/>
<circle cx="616.32" cy="73.08" r="1.6" fill="#1a1aff"/>
<circle cx="622.95" cy="71.63" r="1.6" fill="#1a1aff"/>
<circle cx="629.58" cy="72.79" r="1.6" fill="#1a1aff"/>
<circle cx="636.21" cy="71.63" r="1.6" fill="#1a1aff"/>
<circle cx="642.84" cy="72.79" r="1.6" fill="#1a1aff"/>
<circle cx="649.47" cy="95.72" r="1.6" fill="#1a1aff"/>
<circle cx="656.11" cy="94.56" r="1.6" fill="#1a1aff"/>
<circle cx="662.74" cy="95.72" r="1.6" fill="#1a1aff"/>
<circle cx="669.37" cy="99.79" r="1.6" fill="#1a1aff"/>
<circle cx="676" cy="95.72" r="1.6" fill="#1a1aff"/>
<path d="M550 73.66 L556.63 66.12 L563.26 63.79 L569.89 63.79 L576.53 66.12 L583.16 85.27 L589.79 87.89 L596.42 87.01 L603.05 85.27 L609.68 87.6 L616.32 49.86 L622.95 51.6 L629.58 52.41 L636.21 53.63 L642.84 54.5 L649.47 94.79 L656.11 95.14 L662.74 94.79 L669.37 94.27 L676 94.56" stroke="#ff1a1a" stroke-width="1" fill="none"/>
<circle cx="550" cy="73.66" r="1.6" fill="#ff1a1a"/>
<circle cx="556.63" cy="66.12" r="1.6" fill="#ff1a1a"/>
<circle cx="563.26" cy="63.79" r="1.6" fill="#ff1a1a"/>
<circle cx="569.89" cy="63.79" r="1.6" fill="#ff1a1a"/>
<circle cx="576.53" cy="66.12" r="1.6" fill="#ff1a1a"/>
<circle cx="583.16" cy="85.27" r="1.6" fill="#ff1a1a"/>
<circle cx="589.79" cy="87.89" r="1.6" fill="#ff1a1a"/>
<circle cx="596.42" cy="87.01" r="1.6" fill="#ff1a1a"/>
<circle cx="603.05" cy="85.27" r="1.6" fill="#ff1a1a"/>
<circle cx="609.68" cy="87.6" r="1.6" fill="#ff1a1a"/>
<circle cx="616.32" cy="49.86" r="1.6" fill="#ff1a1a"/>
<circle cx="622.95" cy="51.6" r="1.6" fill="#ff1a1a"/>
<circle cx="629.58" cy="52.41" r="1.6" fill="#ff1a1a"/>
<circle cx="636.21" cy="53.63" r="1.6" fill="#ff1a1a"/>
<circle cx="642.84" cy="54.5" r="1.6" fill="#ff1a1a"/>
<circle cx="649.47" cy="94.79" r="1.6" fill="#ff1a1a"/>
<circle cx="656.11" cy="95.14" r="1.6" fill="#ff1a1a"/>
<circle cx="662.74" cy="94.79" r="1.6" fill="#ff1a1a"/>
<circle cx="669.37" cy="94.27" r="1.6" fill="#ff1a1a"/>
<circle cx="676" cy="94.56" r="1.6" fill="#ff1a1a"/>
<rect x="549.6" y="6.9" width="133.6" height="107.4" fill="none" stroke="#444444" stroke-width="1.25"/>
<line x1="549.6" y1="114.3" x2="549.6" y2="116.3" stroke="#444444" stroke-width="0.9"/>
<text x="549.6" y="122.2" font-size="6" text-anchor="middle" font-weight="normal" font-family='"Liberation Sans", sans-serif' fill="#000" stroke="#000" stroke-width="0.08">0</text>
<line x1="566.86" y1="114.3" x2="566.86" y2="116.3" stroke="#444444" stroke-width="0.9"/>
<text x="566.86" y="122.2" font-size="6" text-anchor="middle" font-weight="normal" font-family='"Liberation Sans", sans-serif' fill="#000" stroke="#000" stroke-width="0.08">20</text>
<line x1="584.12" y1="114.3" x2="584.12" y2="116.3" stroke="#444444" stroke-width="0.9"/>
<text x="584.12" y="122.2" font-size="6" text-anchor="middle" font-weight="normal" font-family='"Liberation Sans", sans-serif' fill="#000" stroke="#000" stroke-width="0.08">40</text>
<line x1="601.38" y1="114.3" x2="601.38" y2="116.3" stroke="#444444" stroke-width="0.9"/>
<text x="601.38" y="122.2" font-size="6" text-anchor="middle" font-weight="normal" font-family='"Liberation Sans", sans-serif' fill="#000" stroke="#000" stroke-width="0.08">60</text>
<line x1="618.64" y1="114.3" x2="618.64" y2="116.3" stroke="#444444" stroke-width="0.9"/>
<text x="618.64" y="122.2" font-size="6" text-anchor="middle" font-weight="normal" font-family='"Liberation Sans", sans-serif' fill="#000" stroke="#000" stroke-width="0.08">80</text>
<line x1="635.9" y1="114.3" x2="635.9" y2="116.3" stroke="#444444" stroke-width="0.9"/>
<text x="635.9" y="122.2" font-size="6" text-anchor="middle" font-weight="normal" font-family='"Liberation Sans", sans-serif' fill="#000" stroke="#000" stroke-width="0.08">100</text>
<line x1="653.16" y1="114.3" x2="653.16" y2="116.3" stroke="#444444" stroke-width="0.9"/>
<text x="653.16" y="122.2" font-size="6" text-anchor="middle" font-weight="normal" font-family='"Liberation Sans", sans-serif' fill="#000" stroke="#000" stroke-width="0.08">120</text>
<line x1="670.42" y1="114.3" x2="670.42" y2="116.3" stroke="#444444" stroke-width="0.9"/>
<text x="670.42" y="122.2" font-size="6" text-anchor="middle" font-weight="normal" font-family='"Liberation Sans", sans-serif' fill="#000" stroke="#000" stroke-width="0.08">140</text>
<line x1="549.6" y1="111.4" x2="551.4" y2="111.4" stroke="#444444" stroke-width="0.9"/>
<text x="547.2" y="113.35" font-size="6" text-anchor="end" font-weight="normal" font-family='"Liberation Sans", sans-serif' fill="#000" stroke="#000" stroke-width="0.08">0</text>
<line x1="549.6" y1="99.79" x2="551.4" y2="99.79" stroke="#444444" stroke-width="0.9"/>
<text x="547.2" y="101.74" font-size="6" text-anchor="end" font-weight="normal" font-family='"Liberation Sans", sans-serif' fill="#000" stroke="#000" stroke-width="0.08">20</text>
<line x1="549.6" y1="88.18" x2="551.4" y2="88.18" stroke="#444444" stroke-width="0.9"/>
<text x="547.2" y="90.13" font-size="6" text-anchor="end" font-weight="normal" font-family='"Liberation Sans", sans-serif' fill="#000" stroke="#000" stroke-width="0.08">40</text>
<line x1="549.6" y1="76.56" x2="551.4" y2="76.56" stroke="#444444" stroke-width="0.9"/>
<text x="547.2" y="78.51" font-size="6" text-anchor="end" font-weight="normal" font-family='"Liberation Sans", sans-serif' fill="#000" stroke="#000" stroke-width="0.08">60</text>
<line x1="549.6" y1="64.95" x2="551.4" y2="64.95" stroke="#444444" stroke-width="0.9"/>
<text x="547.2" y="66.9" font-size="6" text-anchor="end" font-weight="normal" font-family='"Liberation Sans", sans-serif' fill="#000" stroke="#000" stroke-width="0.08">80</text>
<line x1="549.6" y1="53.34" x2="551.4" y2="53.34" stroke="#444444" stroke-width="0.9"/>
<text x="547.2" y="55.29" font-size="6" text-anchor="end" font-weight="normal" font-family='"Liberation Sans", sans-serif' fill="#000" stroke="#000" stroke-width="0.08">100</text>
<line x1="549.6" y1="41.73" x2="551.4" y2="41.73" stroke="#444444" stroke-width="0.9"/>
<text x="547.2" y="43.68" font-size="6" text-anchor="end" font-weight="normal" font-family='"Liberation Sans", sans-serif' fill="#000" stroke="#000" stroke-width="0.08">120</text>
<line x1="549.6" y1="30.12" x2="551.4" y2="30.12" stroke="#444444" stroke-width="0.9"/>
<text x="547.2" y="32.07" font-size="6" text-anchor="end" font-weight="normal" font-family='"Liberation Sans", sans-serif' fill="#000" stroke="#000" stroke-width="0.08">140</text>
<line x1="549.6" y1="18.51" x2="551.4" y2="18.51" stroke="#444444" stroke-width="0.9"/>
<text x="547.2" y="20.46" font-size="6" text-anchor="end" font-weight="normal" font-family='"Liberation Sans", sans-serif' fill="#000" stroke="#000" stroke-width="0.08">160</text>
<line x1="549.6" y1="6.9" x2="551.4" y2="6.9" stroke="#444444" stroke-width="0.9"/>
<text x="547.2" y="8.85" font-size="6" text-anchor="end" font-weight="normal" font-family='"Liberation Sans", sans-serif' fill="#000" stroke="#000" stroke-width="0.08">180</text>
<text x="677.8" y="16.4" font-size="6.3" text-anchor="end" font-weight="bold" font-family='"Liberation Sans", sans-serif' fill="#000" textLength="50" lengthAdjust="spacingAndGlyphs">MDA-MB-231, 4h</text>
<text x="535.6" y="60.7" font-size="6.4" text-anchor="middle" font-weight="bold" font-family='"Liberation Sans", sans-serif' fill="#000" transform="rotate(-90 535.6 60.7)" textLength="41.1" lengthAdjust="spacingAndGlyphs">OCR (pM/min)</text>
<text x="617.1" y="131.2" font-size="6.5" text-anchor="middle" font-weight="bold" font-family='"Liberation Sans", sans-serif' fill="#000" textLength="31.4" lengthAdjust="spacingAndGlyphs">Time (min)</text>
<line x1="57.3" y1="184.5" x2="57.3" y2="248.9" stroke="#b088c8" stroke-width="1.3" stroke-dasharray="4 3"/>
<text x="58.4" y="180.6" font-size="5.1" text-anchor="middle" font-weight="bold" font-family='"Liberation Serif", serif' fill="#1a1a1a" textLength="16.9" lengthAdjust="spacingAndGlyphs">Glucose</text>
<line x1="93.1" y1="182.8" x2="93.1" y2="248.9" stroke="#b088c8" stroke-width="1.3" stroke-dasharray="4 3"/>
<text x="96.9" y="178.9" font-size="5.1" text-anchor="middle" font-weight="bold" font-family='"Liberation Serif", serif' fill="#1a1a1a" textLength="24.3" lengthAdjust="spacingAndGlyphs">Oligomycin</text>
<line x1="130.2" y1="183.8" x2="130.2" y2="248.9" stroke="#b088c8" stroke-width="1.3" stroke-dasharray="4 3"/>
<text x="131.6" y="179.9" font-size="5.1" text-anchor="middle" font-weight="bold" font-family='"Liberation Serif", serif' fill="#1a1a1a" textLength="11.6" lengthAdjust="spacingAndGlyphs">2-DG</text>
<path d="M40.4 230.01 L47.59 232.05 L54.78 231.76 L61.96 200.67 L69.15 194.56 L76.34 196.31 L83.53 197.47 L90.72 200.37 L97.91 202.41 L105.09 201.25 L112.28 205.31 L119.47 214.03 L126.66 212 L133.85 226.24 L141.04 224.78 L148.22 224.78 L155.41 225.36 L162.6 225.65" stroke="#111111" stroke-width="0.8" fill="none"/>
<circle cx="40.4" cy="230.01" r="1.3" fill="#111111"/>
<circle cx="47.59" cy="232.05" r="1.3" fill="#111111"/>
<circle cx="54.78" cy="231.76" r="1.3" fill="#111111"/>
<circle cx="61.96" cy="200.67" r="1.3" fill="#111111"/>
<circle cx="69.15" cy="194.56" r="1.3" fill="#111111"/>
<circle cx="76.34" cy="196.31" r="1.3" fill="#111111"/>
<circle cx="83.53" cy="197.47" r="1.3" fill="#111111"/>
<circle cx="90.72" cy="200.37" r="1.3" fill="#111111"/>
<circle cx="97.91" cy="202.41" r="1.3" fill="#111111"/>
<circle cx="105.09" cy="201.25" r="1.3" fill="#111111"/>
<circle cx="112.28" cy="205.31" r="1.3" fill="#111111"/>
<circle cx="119.47" cy="214.03" r="1.3" fill="#111111"/>
<circle cx="126.66" cy="212" r="1.3" fill="#111111"/>
<circle cx="133.85" cy="226.24" r="1.3" fill="#111111"/>
<circle cx="141.04" cy="224.78" r="1.3" fill="#111111"/>
<circle cx="148.22" cy="224.78" r="1.3" fill="#111111"/>
<circle cx="155.41" cy="225.36" r="1.3" fill="#111111"/>
<circle cx="162.6" cy="225.65" r="1.3" fill="#111111"/>
<path d="M40.4 230.01 L47.59 233.21 L54.78 231.76 L61.96 220.42 L69.15 218.39 L76.34 219.84 L83.53 220.42 L90.72 220.13 L97.91 231.18 L105.09 227.98 L112.28 229.72 L119.47 227.98 L126.66 226.24 L133.85 238.73 L141.04 233.5 L148.22 233.21 L155.41 233.21 L162.6 233.5" stroke="#ff1a1a" stroke-width="1" fill="none"/>
<circle cx="40.4" cy="230.01" r="1.7" fill="#ff1a1a"/>
<circle cx="47.59" cy="233.21" r="1.7" fill="#ff1a1a"/>
<circle cx="54.78" cy="231.76" r="1.7" fill="#ff1a1a"/>
<circle cx="61.96" cy="220.42" r="1.7" fill="#ff1a1a"/>
<circle cx="69.15" cy="218.39" r="1.7" fill="#ff1a1a"/>
<circle cx="76.34" cy="219.84" r="1.7" fill="#ff1a1a"/>
<circle cx="83.53" cy="220.42" r="1.7" fill="#ff1a1a"/>
<circle cx="90.72" cy="220.13" r="1.7" fill="#ff1a1a"/>
<circle cx="97.91" cy="231.18" r="1.7" fill="#ff1a1a"/>
<circle cx="105.09" cy="227.98" r="1.7" fill="#ff1a1a"/>
<circle cx="112.28" cy="229.72" r="1.7" fill="#ff1a1a"/>
<circle cx="119.47" cy="227.98" r="1.7" fill="#ff1a1a"/>
<circle cx="126.66" cy="226.24" r="1.7" fill="#ff1a1a"/>
<circle cx="133.85" cy="238.73" r="1.7" fill="#ff1a1a"/>
<circle cx="141.04" cy="233.5" r="1.7" fill="#ff1a1a"/>
<circle cx="148.22" cy="233.21" r="1.7" fill="#ff1a1a"/>
<circle cx="155.41" cy="233.21" r="1.7" fill="#ff1a1a"/>
<circle cx="162.6" cy="233.5" r="1.7" fill="#ff1a1a"/>
<path d="M40.4 233.21 L47.59 233.79 L54.78 233.79 L61.96 235.24 L69.15 233.79 L76.34 234.08 L83.53 234.08 L90.72 233.79 L97.91 234.66 L105.09 237.28 L112.28 234.08 L119.47 236.11 L126.66 233.79 L133.85 237.57 L141.04 234.37 L148.22 234.95 L155.41 234.95 L162.6 235.24" stroke="#1a1aff" stroke-width="1" fill="none"/>
<circle cx="40.4" cy="233.21" r="1.7" fill="#1a1aff"/>
<circle cx="47.59" cy="233.79" r="1.7" fill="#1a1aff"/>
<circle cx="54.78" cy="233.79" r="1.7" fill="#1a1aff"/>
<circle cx="61.96" cy="235.24" r="1.7" fill="#1a1aff"/>
<circle cx="69.15" cy="233.79" r="1.7" fill="#1a1aff"/>
<circle cx="76.34" cy="234.08" r="1.7" fill="#1a1aff"/>
<circle cx="83.53" cy="234.08" r="1.7" fill="#1a1aff"/>
<circle cx="90.72" cy="233.79" r="1.7" fill="#1a1aff"/>
<circle cx="97.91" cy="234.66" r="1.7" fill="#1a1aff"/>
<circle cx="105.09" cy="237.28" r="1.7" fill="#1a1aff"/>
<circle cx="112.28" cy="234.08" r="1.7" fill="#1a1aff"/>
<circle cx="119.47" cy="236.11" r="1.7" fill="#1a1aff"/>
<circle cx="126.66" cy="233.79" r="1.7" fill="#1a1aff"/>
<circle cx="133.85" cy="237.57" r="1.7" fill="#1a1aff"/>
<circle cx="141.04" cy="234.37" r="1.7" fill="#1a1aff"/>
<circle cx="148.22" cy="234.95" r="1.7" fill="#1a1aff"/>
<circle cx="155.41" cy="234.95" r="1.7" fill="#1a1aff"/>
<circle cx="162.6" cy="235.24" r="1.7" fill="#1a1aff"/>
<path d="M40.4 234.08 L47.59 236.11 L54.78 234.08 L61.96 237.28 L69.15 233.79 L76.34 233.79 L83.53 234.08 L90.72 234.08 L97.91 236.11 L105.09 235.24 L112.28 236.11 L119.47 236.11 L126.66 233.5 L133.85 234.95 L141.04 233.79 L148.22 233.79 L155.41 233.79 L162.6 234.37" stroke="#1a8c8c" stroke-width="1" fill="none"/>
<circle cx="40.4" cy="234.08" r="1.7" fill="#1a8c8c"/>
<circle cx="47.59" cy="236.11" r="1.7" fill="#1a8c8c"/>
<circle cx="54.78" cy="234.08" r="1.7" fill="#1a8c8c"/>
<circle cx="61.96" cy="237.28" r="1.7" fill="#1a8c8c"/>
<circle cx="69.15" cy="233.79" r="1.7" fill="#1a8c8c"/>
<circle cx="76.34" cy="233.79" r="1.7" fill="#1a8c8c"/>
<circle cx="83.53" cy="234.08" r="1.7" fill="#1a8c8c"/>
<circle cx="90.72" cy="234.08" r="1.7" fill="#1a8c8c"/>
<circle cx="97.91" cy="236.11" r="1.7" fill="#1a8c8c"/>
<circle cx="105.09" cy="235.24" r="1.7" fill="#1a8c8c"/>
<circle cx="112.28" cy="236.11" r="1.7" fill="#1a8c8c"/>
<circle cx="119.47" cy="236.11" r="1.7" fill="#1a8c8c"/>
<circle cx="126.66" cy="233.5" r="1.7" fill="#1a8c8c"/>
<circle cx="133.85" cy="234.95" r="1.7" fill="#1a8c8c"/>
<circle cx="141.04" cy="233.79" r="1.7" fill="#1a8c8c"/>
<circle cx="148.22" cy="233.79" r="1.7" fill="#1a8c8c"/>
<circle cx="155.41" cy="233.79" r="1.7" fill="#1a8c8c"/>
<circle cx="162.6" cy="234.37" r="1.7" fill="#1a8c8c"/>
<rect x="39.6" y="147.2" width="131.1" height="101.7" fill="none" stroke="#444444" stroke-width="1.25"/>
<line x1="39.6" y1="248.9" x2="39.6" y2="250.9" stroke="#444444" stroke-width="0.9"/>
<text x="39.6" y="257.1" font-size="6.1" text-anchor="middle" font-weight="bold" font-family='"Liberation Sans", sans-serif' fill="#000" stroke="#000" stroke-width="0.08">0</text>
<line x1="58.31" y1="248.9" x2="58.31" y2="250.9" stroke="#444444" stroke-width="0.9"/>
<text x="58.31" y="257.1" font-size="6.1" text-anchor="middle" font-weight="bold" font-family='"Liberation Sans", sans-serif' fill="#000" stroke="#000" stroke-width="0.08">20</text>
<line x1="77.03" y1="248.9" x2="77.03" y2="250.9" stroke="#444444" stroke-width="0.9"/>
<text x="77.03" y="257.1" font-size="6.1" text-anchor="middle" font-weight="bold" font-family='"Liberation Sans", sans-serif' fill="#000" stroke="#000" stroke-width="0.08">40</text>
<line x1="95.74" y1="248.9" x2="95.74" y2="250.9" stroke="#444444" stroke-width="0.9"/>
<text x="95.74" y="257.1" font-size="6.1" text-anchor="middle" font-weight="bold" font-family='"Liberation Sans", sans-serif' fill="#000" stroke="#000" stroke-width="0.08">60</text>
<line x1="114.46" y1="248.9" x2="114.46" y2="250.9" stroke="#444444" stroke-width="0.9"/>
<text x="114.46" y="257.1" font-size="6.1" text-anchor="middle" font-weight="bold" font-family='"Liberation Sans", sans-serif' fill="#000" stroke="#000" stroke-width="0.08">80</text>
<line x1="133.17" y1="248.9" x2="133.17" y2="250.9" stroke="#444444" stroke-width="0.9"/>
<text x="133.17" y="257.1" font-size="6.1" text-anchor="middle" font-weight="bold" font-family='"Liberation Sans", sans-serif' fill="#000" stroke="#000" stroke-width="0.08">100</text>
<line x1="151.88" y1="248.9" x2="151.88" y2="250.9" stroke="#444444" stroke-width="0.9"/>
<text x="151.88" y="257.1" font-size="6.1" text-anchor="middle" font-weight="bold" font-family='"Liberation Sans", sans-serif' fill="#000" stroke="#000" stroke-width="0.08">120</text>
<line x1="170.6" y1="248.9" x2="170.6" y2="250.9" stroke="#444444" stroke-width="0.9"/>
<text x="170.6" y="257.1" font-size="6.1" text-anchor="middle" font-weight="bold" font-family='"Liberation Sans", sans-serif' fill="#000" stroke="#000" stroke-width="0.08">140</text>
<line x1="39.6" y1="234.37" x2="41.4" y2="234.37" stroke="#444444" stroke-width="0.9"/>
<text x="37.2" y="236.32" font-size="6.1" text-anchor="end" font-weight="bold" font-family='"Liberation Sans", sans-serif' fill="#000" stroke="#000" stroke-width="0.08">0</text>
<line x1="39.6" y1="205.31" x2="41.4" y2="205.31" stroke="#444444" stroke-width="0.9"/>
<text x="37.2" y="207.26" font-size="6.1" text-anchor="end" font-weight="bold" font-family='"Liberation Sans", sans-serif' fill="#000" stroke="#000" stroke-width="0.08">10</text>
<line x1="39.6" y1="176.26" x2="41.4" y2="176.26" stroke="#444444" stroke-width="0.9"/>
<text x="37.2" y="178.21" font-size="6.1" text-anchor="end" font-weight="bold" font-family='"Liberation Sans", sans-serif' fill="#000" stroke="#000" stroke-width="0.08">20</text>
<line x1="39.6" y1="147.2" x2="41.4" y2="147.2" stroke="#444444" stroke-width="0.9"/>
<text x="37.2" y="149.15" font-size="6.1" text-anchor="end" font-weight="bold" font-family='"Liberation Sans", sans-serif' fill="#000" stroke="#000" stroke-width="0.08">30</text>
<text x="160.7" y="156.2" font-size="6.2" text-anchor="end" font-weight="bold" font-family='"Liberation Sans", sans-serif' fill="#000" textLength="32.7" lengthAdjust="spacingAndGlyphs">MCF7, 12 h</text>
<text x="27.5" y="195.8" font-size="6.1" text-anchor="middle" font-weight="bold" font-family='"Liberation Sans", sans-serif' fill="#000" transform="rotate(-90 27.5 195.8)" textLength="46.9" lengthAdjust="spacingAndGlyphs">ECAR (mpH/min)</text>
<text x="103.4" y="268.4" font-size="6.5" text-anchor="middle" font-weight="bold" font-family='"Liberation Sans", sans-serif' fill="#000" textLength="31.4" lengthAdjust="spacingAndGlyphs">Time (min)</text>
<line x1="243.8" y1="186.1" x2="243.8" y2="250.6" stroke="#a880c0" stroke-width="1.3" stroke-dasharray="4 3"/>
<text x="245.1" y="182.2" font-size="5.1" text-anchor="middle" font-weight="bold" font-family='"Liberation Serif", serif' fill="#1a1a1a" textLength="24.4" lengthAdjust="spacingAndGlyphs">Oligomycin</text>
<line x1="274.6" y1="185.2" x2="274.6" y2="250.6" stroke="#a880c0" stroke-width="1.3" stroke-dasharray="4 3"/>
<text x="275.4" y="181.3" font-size="5.1" text-anchor="middle" font-weight="bold" font-family='"Liberation Serif", serif' fill="#1a1a1a" textLength="13.1" lengthAdjust="spacingAndGlyphs">FCCP</text>
<line x1="307.3" y1="184.7" x2="307.3" y2="250.6" stroke="#a880c0" stroke-width="1.3" stroke-dasharray="4 3"/>
<text x="307.1" y="180.8" font-size="5.1" text-anchor="middle" font-weight="bold" font-family='"Liberation Serif", serif' fill="#1a1a1a" textLength="20.4" lengthAdjust="spacingAndGlyphs">ROT/A.A</text>
<path d="M214.1 201.11V210.52M212.9 201.11h2.4M212.9 210.52h2.4" stroke="#8a8a8a" stroke-width="0.8" fill="none"/>
<path d="M220.47 200.54V209.95M219.27 200.54h2.4M219.27 209.95h2.4" stroke="#8a8a8a" stroke-width="0.8" fill="none"/>
<path d="M226.84 201.67V211.08M225.64 201.67h2.4M225.64 211.08h2.4" stroke="#8a8a8a" stroke-width="0.8" fill="none"/>
<path d="M233.21 201.67V211.08M232.01 201.67h2.4M232.01 211.08h2.4" stroke="#8a8a8a" stroke-width="0.8" fill="none"/>
<path d="M239.57 202.61V212.02M238.37 202.61h2.4M238.37 212.02h2.4" stroke="#8a8a8a" stroke-width="0.8" fill="none"/>
<path d="M245.94 204.31V213.72M244.74 204.31h2.4M244.74 213.72h2.4" stroke="#8a8a8a" stroke-width="0.8" fill="none"/>
<path d="M252.31 205.62V215.03M251.11 205.62h2.4M251.11 215.03h2.4" stroke="#8a8a8a" stroke-width="0.8" fill="none"/>
<path d="M258.68 206.19V215.6M257.48 206.19h2.4M257.48 215.6h2.4" stroke="#8a8a8a" stroke-width="0.8" fill="none"/>
<path d="M265.05 205.81V215.22M263.85 205.81h2.4M263.85 215.22h2.4" stroke="#8a8a8a" stroke-width="0.8" fill="none"/>
<path d="M271.42 206.94V216.35M270.22 206.94h2.4M270.22 216.35h2.4" stroke="#8a8a8a" stroke-width="0.8" fill="none"/>
<path d="M277.78 206.94V216.35M276.58 206.94h2.4M276.58 216.35h2.4" stroke="#8a8a8a" stroke-width="0.8" fill="none"/>
<path d="M284.15 205.25V214.66M282.95 205.25h2.4M282.95 214.66h2.4" stroke="#8a8a8a" stroke-width="0.8" fill="none"/>
<path d="M290.52 205.81V215.22M289.32 205.81h2.4M289.32 215.22h2.4" stroke="#8a8a8a" stroke-width="0.8" fill="none"/>
<path d="M296.89 205.25V214.66M295.69 205.25h2.4M295.69 214.66h2.4" stroke="#8a8a8a" stroke-width="0.8" fill="none"/>
<path d="M303.26 205.81V215.22M302.06 205.81h2.4M302.06 215.22h2.4" stroke="#8a8a8a" stroke-width="0.8" fill="none"/>
<path d="M309.63 213.53V222.94M308.43 213.53h2.4M308.43 222.94h2.4" stroke="#8a8a8a" stroke-width="0.8" fill="none"/>
<path d="M315.99 212.02V221.43M314.79 212.02h2.4M314.79 221.43h2.4" stroke="#8a8a8a" stroke-width="0.8" fill="none"/>
<path d="M322.36 212.78V222.18M321.16 212.78h2.4M321.16 222.18h2.4" stroke="#8a8a8a" stroke-width="0.8" fill="none"/>
<path d="M328.73 212.96V222.37M327.53 212.96h2.4M327.53 222.37h2.4" stroke="#8a8a8a" stroke-width="0.8" fill="none"/>
<path d="M335.1 212.96V222.37M333.9 212.96h2.4M333.9 222.37h2.4" stroke="#8a8a8a" stroke-width="0.8" fill="none"/>
<path d="M214.1 205.81 L220.47 205.25 L226.84 206.38 L233.21 206.38 L239.57 207.32 L245.94 209.01 L252.31 210.33 L258.68 210.89 L265.05 210.52 L271.42 211.65 L277.78 211.65 L284.15 209.95 L290.52 210.52 L296.89 209.95 L303.26 210.52 L309.63 218.23 L315.99 216.73 L322.36 217.48 L328.73 217.67 L335.1 217.67" stroke="#111111" stroke-width="0.9" fill="none"/>
<circle cx="214.1" cy="205.81" r="1.2" fill="#111111"/>
<circle cx="220.47" cy="205.25" r="1.2" fill="#111111"/>
<circle cx="226.84" cy="206.38" r="1.2" fill="#111111"/>
<circle cx="233.21" cy="206.38" r="1.2" fill="#111111"/>
<circle cx="239.57" cy="207.32" r="1.2" fill="#111111"/>
<circle cx="245.94" cy="209.01" r="1.2" fill="#111111"/>
<circle cx="252.31" cy="210.33" r="1.2" fill="#111111"/>
<circle cx="258.68" cy="210.89" r="1.2" fill="#111111"/>
<circle cx="265.05" cy="210.52" r="1.2" fill="#111111"/>
<circle cx="271.42" cy="211.65" r="1.2" fill="#111111"/>
<circle cx="277.78" cy="211.65" r="1.2" fill="#111111"/>
<circle cx="284.15" cy="209.95" r="1.2" fill="#111111"/>
<circle cx="290.52" cy="210.52" r="1.2" fill="#111111"/>
<circle cx="296.89" cy="209.95" r="1.2" fill="#111111"/>
<circle cx="303.26" cy="210.52" r="1.2" fill="#111111"/>
<circle cx="309.63" cy="218.23" r="1.2" fill="#111111"/>
<circle cx="315.99" cy="216.73" r="1.2" fill="#111111"/>
<circle cx="322.36" cy="217.48" r="1.2" fill="#111111"/>
<circle cx="328.73" cy="217.67" r="1.2" fill="#111111"/>
<circle cx="335.1" cy="217.67" r="1.2" fill="#111111"/>
<path d="M214.1 231.41 L220.47 230.46 L226.84 230.65 L233.21 230.84 L239.57 230.84 L245.94 229.71 L252.31 231.41 L258.68 230.46 L265.05 231.41 L271.42 231.41 L277.78 233.48 L284.15 233.48 L290.52 233.1 L296.89 232.72 L303.26 233.1 L309.63 233.85 L315.99 233.85 L322.36 233.85 L328.73 233.85 L335.1 233.85" stroke="#1a8c8c" stroke-width="1" fill="none"/>
<circle cx="214.1" cy="231.41" r="1.3" fill="#1a8c8c"/>
<circle cx="220.47" cy="230.46" r="1.3" fill="#1a8c8c"/>
<circle cx="226.84" cy="230.65" r="1.3" fill="#1a8c8c"/>
<circle cx="233.21" cy="230.84" r="1.3" fill="#1a8c8c"/>
<circle cx="239.57" cy="230.84" r="1.3" fill="#1a8c8c"/>
<circle cx="245.94" cy="229.71" r="1.3" fill="#1a8c8c"/>
<circle cx="252.31" cy="231.41" r="1.3" fill="#1a8c8c"/>
<circle cx="258.68" cy="230.46" r="1.3" fill="#1a8c8c"/>
<circle cx="265.05" cy="231.41" r="1.3" fill="#1a8c8c"/>
<circle cx="271.42" cy="231.41" r="1.3" fill="#1a8c8c"/>
<circle cx="277.78" cy="233.48" r="1.3" fill="#1a8c8c"/>
<circle cx="284.15" cy="233.48" r="1.3" fill="#1a8c8c"/>
<circle cx="290.52" cy="233.1" r="1.3" fill="#1a8c8c"/>
<circle cx="296.89" cy="232.72" r="1.3" fill="#1a8c8c"/>
<circle cx="303.26" cy="233.1" r="1.3" fill="#1a8c8c"/>
<circle cx="309.63" cy="233.85" r="1.3" fill="#1a8c8c"/>
<circle cx="315.99" cy="233.85" r="1.3" fill="#1a8c8c"/>
<circle cx="322.36" cy="233.85" r="1.3" fill="#1a8c8c"/>
<circle cx="328.73" cy="233.85" r="1.3" fill="#1a8c8c"/>
<circle cx="335.1" cy="233.85" r="1.3" fill="#1a8c8c"/>
<path d="M214.1 238.56 L220.47 237.05 L226.84 238.93 L233.21 238.56 L239.57 238.18 L245.94 234.04 L252.31 235.36 L258.68 234.98 L265.05 235.36 L271.42 235.73 L277.78 236.11 L284.15 236.11 L290.52 235.17 L296.89 235.55 L303.26 235.55 L309.63 239.31 L315.99 238.74 L322.36 238.74 L328.73 238.37 L335.1 237.8" stroke="#ff1a1a" stroke-width="1" fill="none"/>
<circle cx="214.1" cy="238.56" r="1.3" fill="#ff1a1a"/>
<circle cx="220.47" cy="237.05" r="1.3" fill="#ff1a1a"/>
<circle cx="226.84" cy="238.93" r="1.3" fill="#ff1a1a"/>
<circle cx="233.21" cy="238.56" r="1.3" fill="#ff1a1a"/>
<circle cx="239.57" cy="238.18" r="1.3" fill="#ff1a1a"/>
<circle cx="245.94" cy="234.04" r="1.3" fill="#ff1a1a"/>
<circle cx="252.31" cy="235.36" r="1.3" fill="#ff1a1a"/>
<circle cx="258.68" cy="234.98" r="1.3" fill="#ff1a1a"/>
<circle cx="265.05" cy="235.36" r="1.3" fill="#ff1a1a"/>
<circle cx="271.42" cy="235.73" r="1.3" fill="#ff1a1a"/>
<circle cx="277.78" cy="236.11" r="1.3" fill="#ff1a1a"/>
<circle cx="284.15" cy="236.11" r="1.3" fill="#ff1a1a"/>
<circle cx="290.52" cy="235.17" r="1.3" fill="#ff1a1a"/>
<circle cx="296.89" cy="235.55" r="1.3" fill="#ff1a1a"/>
<circle cx="303.26" cy="235.55" r="1.3" fill="#ff1a1a"/>
<circle cx="309.63" cy="239.31" r="1.3" fill="#ff1a1a"/>
<circle cx="315.99" cy="238.74" r="1.3" fill="#ff1a1a"/>
<circle cx="322.36" cy="238.74" r="1.3" fill="#ff1a1a"/>
<circle cx="328.73" cy="238.37" r="1.3" fill="#ff1a1a"/>
<circle cx="335.1" cy="237.8" r="1.3" fill="#ff1a1a"/>
<path d="M214.1 240.63 L220.47 240.63 L226.84 241.57 L233.21 241.94 L239.57 242.51 L245.94 238.56 L252.31 239.5 L258.68 238.93 L265.05 237.43 L271.42 237.05 L277.78 236.49 L284.15 235.17 L290.52 234.79 L296.89 233.85 L303.26 234.42 L309.63 245.33 L315.99 244.39 L322.36 243.64 L328.73 243.26 L335.1 243.26" stroke="#1a1aff" stroke-width="1" fill="none"/>
<circle cx="214.1" cy="240.63" r="1.3" fill="#1a1aff"/>
<circle cx="220.47" cy="240.63" r="1.3" fill="#1a1aff"/>
<circle cx="226.84" cy="241.57" r="1.3" fill="#1a1aff"/>
<circle cx="233.21" cy="241.94" r="1.3" fill="#1a1aff"/>
<circle cx="239.57" cy="242.51" r="1.3" fill="#1a1aff"/>
<circle cx="245.94" cy="238.56" r="1.3" fill="#1a1aff"/>
<circle cx="252.31" cy="239.5" r="1.3" fill="#1a1aff"/>
<circle cx="258.68" cy="238.93" r="1.3" fill="#1a1aff"/>
<circle cx="265.05" cy="237.43" r="1.3" fill="#1a1aff"/>
<circle cx="271.42" cy="237.05" r="1.3" fill="#1a1aff"/>
<circle cx="277.78" cy="236.49" r="1.3" fill="#1a1aff"/>
<circle cx="284.15" cy="235.17" r="1.3" fill="#1a1aff"/>
<circle cx="290.52" cy="234.79" r="1.3" fill="#1a1aff"/>
<circle cx="296.89" cy="233.85" r="1.3" fill="#1a1aff"/>
<circle cx="303.26" cy="234.42" r="1.3" fill="#1a1aff"/>
<circle cx="309.63" cy="245.33" r="1.3" fill="#1a1aff"/>
<circle cx="315.99" cy="244.39" r="1.3" fill="#1a1aff"/>
<circle cx="322.36" cy="243.64" r="1.3" fill="#1a1aff"/>
<circle cx="328.73" cy="243.26" r="1.3" fill="#1a1aff"/>
<circle cx="335.1" cy="243.26" r="1.3" fill="#1a1aff"/>
<rect x="213.3" y="147.1" width="128.3" height="103.5" fill="none" stroke="#444444" stroke-width="1.25"/>
<line x1="213.3" y1="250.6" x2="213.3" y2="252.6" stroke="#444444" stroke-width="0.9"/>
<text x="213.3" y="258.7" font-size="6.1" text-anchor="middle" font-weight="bold" font-family='"Liberation Sans", sans-serif' fill="#000" stroke="#000" stroke-width="0.08">0</text>
<line x1="229.96" y1="250.6" x2="229.96" y2="252.6" stroke="#444444" stroke-width="0.9"/>
<text x="229.96" y="258.7" font-size="6.1" text-anchor="middle" font-weight="bold" font-family='"Liberation Sans", sans-serif' fill="#000" stroke="#000" stroke-width="0.08">20</text>
<line x1="246.62" y1="250.6" x2="246.62" y2="252.6" stroke="#444444" stroke-width="0.9"/>
<text x="246.62" y="258.7" font-size="6.1" text-anchor="middle" font-weight="bold" font-family='"Liberation Sans", sans-serif' fill="#000" stroke="#000" stroke-width="0.08">40</text>
<line x1="263.28" y1="250.6" x2="263.28" y2="252.6" stroke="#444444" stroke-width="0.9"/>
<text x="263.28" y="258.7" font-size="6.1" text-anchor="middle" font-weight="bold" font-family='"Liberation Sans", sans-serif' fill="#000" stroke="#000" stroke-width="0.08">60</text>
<line x1="279.94" y1="250.6" x2="279.94" y2="252.6" stroke="#444444" stroke-width="0.9"/>
<text x="279.94" y="258.7" font-size="6.1" text-anchor="middle" font-weight="bold" font-family='"Liberation Sans", sans-serif' fill="#000" stroke="#000" stroke-width="0.08">80</text>
<line x1="296.6" y1="250.6" x2="296.6" y2="252.6" stroke="#444444" stroke-width="0.9"/>
<text x="296.6" y="258.7" font-size="6.1" text-anchor="middle" font-weight="bold" font-family='"Liberation Sans", sans-serif' fill="#000" stroke="#000" stroke-width="0.08">100</text>
<line x1="313.26" y1="250.6" x2="313.26" y2="252.6" stroke="#444444" stroke-width="0.9"/>
<text x="313.26" y="258.7" font-size="6.1" text-anchor="middle" font-weight="bold" font-family='"Liberation Sans", sans-serif' fill="#000" stroke="#000" stroke-width="0.08">120</text>
<line x1="329.92" y1="250.6" x2="329.92" y2="252.6" stroke="#444444" stroke-width="0.9"/>
<text x="329.92" y="258.7" font-size="6.1" text-anchor="middle" font-weight="bold" font-family='"Liberation Sans", sans-serif' fill="#000" stroke="#000" stroke-width="0.08">140</text>
<line x1="213.3" y1="250.6" x2="215.1" y2="250.6" stroke="#444444" stroke-width="0.9"/>
<text x="210.9" y="252.55" font-size="6.1" text-anchor="end" font-weight="bold" font-family='"Liberation Sans", sans-serif' fill="#000" stroke="#000" stroke-width="0.08">0</text>
<line x1="213.3" y1="231.78" x2="215.1" y2="231.78" stroke="#444444" stroke-width="0.9"/>
<text x="210.9" y="233.73" font-size="6.1" text-anchor="end" font-weight="bold" font-family='"Liberation Sans", sans-serif' fill="#000" stroke="#000" stroke-width="0.08">100</text>
<line x1="213.3" y1="212.96" x2="215.1" y2="212.96" stroke="#444444" stroke-width="0.9"/>
<text x="210.9" y="214.91" font-size="6.1" text-anchor="end" font-weight="bold" font-family='"Liberation Sans", sans-serif' fill="#000" stroke="#000" stroke-width="0.08">200</text>
<line x1="213.3" y1="194.15" x2="215.1" y2="194.15" stroke="#444444" stroke-width="0.9"/>
<text x="210.9" y="196.1" font-size="6.1" text-anchor="end" font-weight="bold" font-family='"Liberation Sans", sans-serif' fill="#000" stroke="#000" stroke-width="0.08">300</text>
<line x1="213.3" y1="175.33" x2="215.1" y2="175.33" stroke="#444444" stroke-width="0.9"/>
<text x="210.9" y="177.28" font-size="6.1" text-anchor="end" font-weight="bold" font-family='"Liberation Sans", sans-serif' fill="#000" stroke="#000" stroke-width="0.08">400</text>
<line x1="213.3" y1="156.51" x2="215.1" y2="156.51" stroke="#444444" stroke-width="0.9"/>
<text x="210.9" y="158.46" font-size="6.1" text-anchor="end" font-weight="bold" font-family='"Liberation Sans", sans-serif' fill="#000" stroke="#000" stroke-width="0.08">500</text>
<text x="334.5" y="155.9" font-size="6.2" text-anchor="end" font-weight="bold" font-family='"Liberation Sans", sans-serif' fill="#000" textLength="32.2" lengthAdjust="spacingAndGlyphs">MCF7, 12 h</text>
<text x="196.27" y="200" font-size="6.3" text-anchor="middle" font-weight="bold" font-family='"Liberation Serif", serif' fill="#000" transform="rotate(-90 196.27 200)" textLength="41.3" lengthAdjust="spacingAndGlyphs">OCR (pM/min)</text>
<text x="272.7" y="269.3" font-size="6.5" text-anchor="middle" font-weight="bold" font-family='"Liberation Sans", sans-serif' fill="#000" textLength="30" lengthAdjust="spacingAndGlyphs">Time (min)</text>
<line x1="408.5" y1="184.9" x2="408.5" y2="252.3" stroke="#8a35a8" stroke-width="1.3" stroke-dasharray="4 3"/>
<text x="410.2" y="181" font-size="5.1" text-anchor="middle" font-weight="bold" font-family='"Liberation Serif", serif' fill="#1a1a1a" textLength="17.6" lengthAdjust="spacingAndGlyphs">Glucose</text>
<line x1="442.4" y1="183.4" x2="442.4" y2="252.3" stroke="#8a35a8" stroke-width="1.3" stroke-dasharray="4 3"/>
<text x="442.5" y="179.5" font-size="5.1" text-anchor="middle" font-weight="bold" font-family='"Liberation Serif", serif' fill="#1a1a1a" textLength="24.8" lengthAdjust="spacingAndGlyphs">Oligomycin</text>
<line x1="477.3" y1="183.6" x2="477.3" y2="252.3" stroke="#8a35a8" stroke-width="1.3" stroke-dasharray="4 3"/>
<text x="477.3" y="179.7" font-size="5.1" text-anchor="middle" font-weight="bold" font-family='"Liberation Serif", serif' fill="#1a1a1a" textLength="12" lengthAdjust="spacingAndGlyphs">2-DG</text>
<path d="M378.2 220.93 L384.99 220.93 L391.78 223.02 L398.57 225.81 L405.36 222.55 L412.15 204.43 L418.94 197.69 L425.73 200.24 L432.52 198.85 L439.31 197.92 L446.09 194.2 L452.88 195.6 L459.67 196.06 L466.46 200.24 L473.25 197.69 L480.04 238.82 L486.83 236.96 L493.62 236.5 L500.41 234.64 L507.2 235.1" stroke="#111111" stroke-width="1" fill="none"/>
<circle cx="378.2" cy="220.93" r="1.3" fill="#111111"/>
<circle cx="384.99" cy="220.93" r="1.3" fill="#111111"/>
<circle cx="391.78" cy="223.02" r="1.3" fill="#111111"/>
<circle cx="398.57" cy="225.81" r="1.3" fill="#111111"/>
<circle cx="405.36" cy="222.55" r="1.3" fill="#111111"/>
<circle cx="412.15" cy="204.43" r="1.3" fill="#111111"/>
<circle cx="418.94" cy="197.69" r="1.3" fill="#111111"/>
<circle cx="425.73" cy="200.24" r="1.3" fill="#111111"/>
<circle cx="432.52" cy="198.85" r="1.3" fill="#111111"/>
<circle cx="439.31" cy="197.92" r="1.3" fill="#111111"/>
<circle cx="446.09" cy="194.2" r="1.3" fill="#111111"/>
<circle cx="452.88" cy="195.6" r="1.3" fill="#111111"/>
<circle cx="459.67" cy="196.06" r="1.3" fill="#111111"/>
<circle cx="466.46" cy="200.24" r="1.3" fill="#111111"/>
<circle cx="473.25" cy="197.69" r="1.3" fill="#111111"/>
<circle cx="480.04" cy="238.82" r="1.3" fill="#111111"/>
<circle cx="486.83" cy="236.96" r="1.3" fill="#111111"/>
<circle cx="493.62" cy="236.5" r="1.3" fill="#111111"/>
<circle cx="500.41" cy="234.64" r="1.3" fill="#111111"/>
<circle cx="507.2" cy="235.1" r="1.3" fill="#111111"/>
<path d="M378.2 227.67 L384.99 227.67 L391.78 227.67 L398.57 224.41 L405.36 226.27 L412.15 229.99 L418.94 231.38 L425.73 234.17 L432.52 230.46 L439.31 232.78 L446.09 234.17 L452.88 230.46 L459.67 233.71 L466.46 236.96 L473.25 234.64 L480.04 222.09 L486.83 229.53 L493.62 232.31 L500.41 234.17 L507.2 232.78" stroke="#1a1aff" stroke-width="1" fill="none"/>
<circle cx="378.2" cy="227.67" r="1.3" fill="#1a1aff"/>
<circle cx="384.99" cy="227.67" r="1.3" fill="#1a1aff"/>
<circle cx="391.78" cy="227.67" r="1.3" fill="#1a1aff"/>
<circle cx="398.57" cy="224.41" r="1.3" fill="#1a1aff"/>
<circle cx="405.36" cy="226.27" r="1.3" fill="#1a1aff"/>
<circle cx="412.15" cy="229.99" r="1.3" fill="#1a1aff"/>
<circle cx="418.94" cy="231.38" r="1.3" fill="#1a1aff"/>
<circle cx="425.73" cy="234.17" r="1.3" fill="#1a1aff"/>
<circle cx="432.52" cy="230.46" r="1.3" fill="#1a1aff"/>
<circle cx="439.31" cy="232.78" r="1.3" fill="#1a1aff"/>
<circle cx="446.09" cy="234.17" r="1.3" fill="#1a1aff"/>
<circle cx="452.88" cy="230.46" r="1.3" fill="#1a1aff"/>
<circle cx="459.67" cy="233.71" r="1.3" fill="#1a1aff"/>
<circle cx="466.46" cy="236.96" r="1.3" fill="#1a1aff"/>
<circle cx="473.25" cy="234.64" r="1.3" fill="#1a1aff"/>
<circle cx="480.04" cy="222.09" r="1.3" fill="#1a1aff"/>
<circle cx="486.83" cy="229.53" r="1.3" fill="#1a1aff"/>
<circle cx="493.62" cy="232.31" r="1.3" fill="#1a1aff"/>
<circle cx="500.41" cy="234.17" r="1.3" fill="#1a1aff"/>
<circle cx="507.2" cy="232.78" r="1.3" fill="#1a1aff"/>
<path d="M378.2 229.99V234.64M377 229.99h2.4M377 234.64h2.4" stroke="#ff7070" stroke-width="0.8" fill="none"/>
<path d="M384.99 230.46V235.1M383.79 230.46h2.4M383.79 235.1h2.4" stroke="#ff7070" stroke-width="0.8" fill="none"/>
<path d="M391.78 228.13V232.78M390.58 228.13h2.4M390.58 232.78h2.4" stroke="#ff7070" stroke-width="0.8" fill="none"/>
<path d="M398.57 230.46V235.1M397.37 230.46h2.4M397.37 235.1h2.4" stroke="#ff7070" stroke-width="0.8" fill="none"/>
<path d="M405.36 228.13V232.78M404.16 228.13h2.4M404.16 232.78h2.4" stroke="#ff7070" stroke-width="0.8" fill="none"/>
<path d="M412.15 230.46V235.1M410.95 230.46h2.4M410.95 235.1h2.4" stroke="#ff7070" stroke-width="0.8" fill="none"/>
<path d="M418.94 221.62V226.27M417.74 221.62h2.4M417.74 226.27h2.4" stroke="#ff7070" stroke-width="0.8" fill="none"/>
<path d="M425.73 223.95V228.6M424.53 223.95h2.4M424.53 228.6h2.4" stroke="#ff7070" stroke-width="0.8" fill="none"/>
<path d="M432.52 222.09V226.74M431.32 222.09h2.4M431.32 226.74h2.4" stroke="#ff7070" stroke-width="0.8" fill="none"/>
<path d="M439.31 221.16V225.81M438.11 221.16h2.4M438.11 225.81h2.4" stroke="#ff7070" stroke-width="0.8" fill="none"/>
<path d="M446.09 229.99V234.64M444.89 229.99h2.4M444.89 234.64h2.4" stroke="#ff7070" stroke-width="0.8" fill="none"/>
<path d="M452.88 231.38V236.03M451.68 231.38h2.4M451.68 236.03h2.4" stroke="#ff7070" stroke-width="0.8" fill="none"/>
<path d="M459.67 228.6V233.24M458.47 228.6h2.4M458.47 233.24h2.4" stroke="#ff7070" stroke-width="0.8" fill="none"/>
<path d="M466.46 227.67V232.31M465.26 227.67h2.4M465.26 232.31h2.4" stroke="#ff7070" stroke-width="0.8" fill="none"/>
<path d="M473.25 226.27V230.92M472.05 226.27h2.4M472.05 230.92h2.4" stroke="#ff7070" stroke-width="0.8" fill="none"/>
<path d="M480.04 228.6V233.24M478.84 228.6h2.4M478.84 233.24h2.4" stroke="#ff7070" stroke-width="0.8" fill="none"/>
<path d="M486.83 229.99V234.64M485.63 229.99h2.4M485.63 234.64h2.4" stroke="#ff7070" stroke-width="0.8" fill="none"/>
<path d="M493.62 230.46V235.1M492.42 230.46h2.4M492.42 235.1h2.4" stroke="#ff7070" stroke-width="0.8" fill="none"/>
<path d="M500.41 232.31V236.96M499.21 232.31h2.4M499.21 236.96h2.4" stroke="#ff7070" stroke-width="0.8" fill="none"/>
<path d="M507.2 234.64V239.29M506 234.64h2.4M506 239.29h2.4" stroke="#ff7070" stroke-width="0.8" fill="none"/>
<path d="M378.2 232.31 L384.99 232.78 L391.78 230.46 L398.57 232.78 L405.36 230.46 L412.15 232.78 L418.94 223.95 L425.73 226.27 L432.52 224.41 L439.31 223.48 L446.09 232.31 L452.88 233.71 L459.67 230.92 L466.46 229.99 L473.25 228.6 L480.04 230.92 L486.83 232.31 L493.62 232.78 L500.41 234.64 L507.2 236.96" stroke="#ff1a1a" stroke-width="1" fill="none"/>
<circle cx="378.2" cy="232.31" r="1.3" fill="#ff1a1a"/>
<circle cx="384.99" cy="232.78" r="1.3" fill="#ff1a1a"/>
<circle cx="391.78" cy="230.46" r="1.3" fill="#ff1a1a"/>
<circle cx="398.57" cy="232.78" r="1.3" fill="#ff1a1a"/>
<circle cx="405.36" cy="230.46" r="1.3" fill="#ff1a1a"/>
<circle cx="412.15" cy="232.78" r="1.3" fill="#ff1a1a"/>
<circle cx="418.94" cy="223.95" r="1.3" fill="#ff1a1a"/>
<circle cx="425.73" cy="226.27" r="1.3" fill="#ff1a1a"/>
<circle cx="432.52" cy="224.41" r="1.3" fill="#ff1a1a"/>
<circle cx="439.31" cy="223.48" r="1.3" fill="#ff1a1a"/>
<circle cx="446.09" cy="232.31" r="1.3" fill="#ff1a1a"/>
<circle cx="452.88" cy="233.71" r="1.3" fill="#ff1a1a"/>
<circle cx="459.67" cy="230.92" r="1.3" fill="#ff1a1a"/>
<circle cx="466.46" cy="229.99" r="1.3" fill="#ff1a1a"/>
<circle cx="473.25" cy="228.6" r="1.3" fill="#ff1a1a"/>
<circle cx="480.04" cy="230.92" r="1.3" fill="#ff1a1a"/>
<circle cx="486.83" cy="232.31" r="1.3" fill="#ff1a1a"/>
<circle cx="493.62" cy="232.78" r="1.3" fill="#ff1a1a"/>
<circle cx="500.41" cy="234.64" r="1.3" fill="#ff1a1a"/>
<circle cx="507.2" cy="236.96" r="1.3" fill="#ff1a1a"/>
<path d="M378.2 238.82 L384.99 240.22 L391.78 238.82 L398.57 240.22 L405.36 238.36 L412.15 238.82 L418.94 234.64 L425.73 236.96 L432.52 236.96 L439.31 237.89 L446.09 236.5 L452.88 239.29 L459.67 238.82 L466.46 237.89 L473.25 236.03 L480.04 236.03 L486.83 234.64 L493.62 234.64 L500.41 235.1 L507.2 234.64" stroke="#1a8c8c" stroke-width="1" fill="none"/>
<circle cx="378.2" cy="238.82" r="1.3" fill="#1a8c8c"/>
<circle cx="384.99" cy="240.22" r="1.3" fill="#1a8c8c"/>
<circle cx="391.78" cy="238.82" r="1.3" fill="#1a8c8c"/>
<circle cx="398.57" cy="240.22" r="1.3" fill="#1a8c8c"/>
<circle cx="405.36" cy="238.36" r="1.3" fill="#1a8c8c"/>
<circle cx="412.15" cy="238.82" r="1.3" fill="#1a8c8c"/>
<circle cx="418.94" cy="234.64" r="1.3" fill="#1a8c8c"/>
<circle cx="425.73" cy="236.96" r="1.3" fill="#1a8c8c"/>
<circle cx="432.52" cy="236.96" r="1.3" fill="#1a8c8c"/>
<circle cx="439.31" cy="237.89" r="1.3" fill="#1a8c8c"/>
<circle cx="446.09" cy="236.5" r="1.3" fill="#1a8c8c"/>
<circle cx="452.88" cy="239.29" r="1.3" fill="#1a8c8c"/>
<circle cx="459.67" cy="238.82" r="1.3" fill="#1a8c8c"/>
<circle cx="466.46" cy="237.89" r="1.3" fill="#1a8c8c"/>
<circle cx="473.25" cy="236.03" r="1.3" fill="#1a8c8c"/>
<circle cx="480.04" cy="236.03" r="1.3" fill="#1a8c8c"/>
<circle cx="486.83" cy="234.64" r="1.3" fill="#1a8c8c"/>
<circle cx="493.62" cy="234.64" r="1.3" fill="#1a8c8c"/>
<circle cx="500.41" cy="235.1" r="1.3" fill="#1a8c8c"/>
<circle cx="507.2" cy="234.64" r="1.3" fill="#1a8c8c"/>
<rect x="377.3" y="145.4" width="132.4" height="106.9" fill="none" stroke="#444444" stroke-width="1.25"/>
<line x1="377.2" y1="252.3" x2="377.2" y2="254.3" stroke="#444444" stroke-width="0.9"/>
<text x="377.2" y="260.7" font-size="6.1" text-anchor="middle" font-weight="bold" font-family='"Liberation Sans", sans-serif' fill="#000" stroke="#000" stroke-width="0.08">0</text>
<line x1="394.86" y1="252.3" x2="394.86" y2="254.3" stroke="#444444" stroke-width="0.9"/>
<text x="394.86" y="260.7" font-size="6.1" text-anchor="middle" font-weight="bold" font-family='"Liberation Sans", sans-serif' fill="#000" stroke="#000" stroke-width="0.08">20</text>
<line x1="412.52" y1="252.3" x2="412.52" y2="254.3" stroke="#444444" stroke-width="0.9"/>
<text x="412.52" y="260.7" font-size="6.1" text-anchor="middle" font-weight="bold" font-family='"Liberation Sans", sans-serif' fill="#000" stroke="#000" stroke-width="0.08">40</text>
<line x1="430.18" y1="252.3" x2="430.18" y2="254.3" stroke="#444444" stroke-width="0.9"/>
<text x="430.18" y="260.7" font-size="6.1" text-anchor="middle" font-weight="bold" font-family='"Liberation Sans", sans-serif' fill="#000" stroke="#000" stroke-width="0.08">60</text>
<line x1="447.84" y1="252.3" x2="447.84" y2="254.3" stroke="#444444" stroke-width="0.9"/>
<text x="447.84" y="260.7" font-size="6.1" text-anchor="middle" font-weight="bold" font-family='"Liberation Sans", sans-serif' fill="#000" stroke="#000" stroke-width="0.08">80</text>
<line x1="465.5" y1="252.3" x2="465.5" y2="254.3" stroke="#444444" stroke-width="0.9"/>
<text x="465.5" y="260.7" font-size="6.1" text-anchor="middle" font-weight="bold" font-family='"Liberation Sans", sans-serif' fill="#000" stroke="#000" stroke-width="0.08">100</text>
<line x1="483.16" y1="252.3" x2="483.16" y2="254.3" stroke="#444444" stroke-width="0.9"/>
<text x="483.16" y="260.7" font-size="6.1" text-anchor="middle" font-weight="bold" font-family='"Liberation Sans", sans-serif' fill="#000" stroke="#000" stroke-width="0.08">120</text>
<line x1="500.82" y1="252.3" x2="500.82" y2="254.3" stroke="#444444" stroke-width="0.9"/>
<text x="500.82" y="260.7" font-size="6.1" text-anchor="middle" font-weight="bold" font-family='"Liberation Sans", sans-serif' fill="#000" stroke="#000" stroke-width="0.08">140</text>
<line x1="377.3" y1="238.36" x2="379.1" y2="238.36" stroke="#444444" stroke-width="0.9"/>
<text x="374.9" y="240.31" font-size="6.1" text-anchor="end" font-weight="bold" font-family='"Liberation Sans", sans-serif' fill="#000" stroke="#000" stroke-width="0.08">0</text>
<line x1="377.3" y1="215.12" x2="379.1" y2="215.12" stroke="#444444" stroke-width="0.9"/>
<text x="374.9" y="217.07" font-size="6.1" text-anchor="end" font-weight="bold" font-family='"Liberation Sans", sans-serif' fill="#000" stroke="#000" stroke-width="0.08">5</text>
<line x1="377.3" y1="191.88" x2="379.1" y2="191.88" stroke="#444444" stroke-width="0.9"/>
<text x="374.9" y="193.83" font-size="6.1" text-anchor="end" font-weight="bold" font-family='"Liberation Sans", sans-serif' fill="#000" stroke="#000" stroke-width="0.08">10</text>
<line x1="377.3" y1="168.64" x2="379.1" y2="168.64" stroke="#444444" stroke-width="0.9"/>
<text x="374.9" y="170.59" font-size="6.1" text-anchor="end" font-weight="bold" font-family='"Liberation Sans", sans-serif' fill="#000" stroke="#000" stroke-width="0.08">15</text>
<line x1="377.3" y1="145.4" x2="379.1" y2="145.4" stroke="#444444" stroke-width="0.9"/>
<text x="374.9" y="147.35" font-size="6.1" text-anchor="end" font-weight="bold" font-family='"Liberation Sans", sans-serif' fill="#000" stroke="#000" stroke-width="0.08">20</text>
<text x="505.2" y="157" font-size="6.34" text-anchor="end" font-weight="bold" font-family='"Liberation Sans", sans-serif' fill="#000" textLength="55.3" lengthAdjust="spacingAndGlyphs">MDA-MB-231, 12 h</text>
<text x="363.8" y="195.8" font-size="6.1" text-anchor="middle" font-weight="bold" font-family='"Liberation Sans", sans-serif' fill="#000" transform="rotate(-90 363.8 195.8)" textLength="46.9" lengthAdjust="spacingAndGlyphs">ECAR (mpH/min)</text>
<text x="443.4" y="271.1" font-size="6.5" text-anchor="middle" font-weight="bold" font-family='"Liberation Sans", sans-serif' fill="#000" textLength="31.4" lengthAdjust="spacingAndGlyphs">Time (min)</text>
<line x1="580.6" y1="184.9" x2="580.6" y2="249.6" stroke="#8a35a8" stroke-width="1.3" stroke-dasharray="4 3"/>
<text x="581.9" y="181" font-size="5.1" text-anchor="middle" font-weight="bold" font-family='"Liberation Serif", serif' fill="#1a1a1a" textLength="25.4" lengthAdjust="spacingAndGlyphs">Oligomycin</text>
<line x1="612.4" y1="183.8" x2="612.4" y2="249.6" stroke="#8a35a8" stroke-width="1.3" stroke-dasharray="4 3"/>
<text x="612.9" y="179.9" font-size="5.1" text-anchor="middle" font-weight="bold" font-family='"Liberation Serif", serif' fill="#1a1a1a" textLength="13.7" lengthAdjust="spacingAndGlyphs">FCCP</text>
<line x1="645.9" y1="183.6" x2="645.9" y2="249.6" stroke="#8a35a8" stroke-width="1.3" stroke-dasharray="4 3"/>
<text x="646" y="179.7" font-size="5.1" text-anchor="middle" font-weight="bold" font-family='"Liberation Serif", serif' fill="#1a1a1a" textLength="21.5" lengthAdjust="spacingAndGlyphs">ROT/A.A</text>
<path d="M550.2 227.33V231.47M549 227.33h2.4M549 231.47h2.4" stroke="#555555" stroke-width="0.8" fill="none"/>
<path d="M556.85 225.25V229.4M555.65 225.25h2.4M555.65 229.4h2.4" stroke="#555555" stroke-width="0.8" fill="none"/>
<path d="M563.49 226.03V230.18M562.29 226.03h2.4M562.29 230.18h2.4" stroke="#555555" stroke-width="0.8" fill="none"/>
<path d="M570.14 227.07V231.21M568.94 227.07h2.4M568.94 231.21h2.4" stroke="#555555" stroke-width="0.8" fill="none"/>
<path d="M576.79 226.03V230.18M575.59 226.03h2.4M575.59 230.18h2.4" stroke="#555555" stroke-width="0.8" fill="none"/>
<path d="M583.44 226.81V230.95M582.24 226.81h2.4M582.24 230.95h2.4" stroke="#555555" stroke-width="0.8" fill="none"/>
<path d="M590.08 231.47V235.61M588.88 231.47h2.4M588.88 235.61h2.4" stroke="#555555" stroke-width="0.8" fill="none"/>
<path d="M596.73 231.47V235.61M595.53 231.47h2.4M595.53 235.61h2.4" stroke="#555555" stroke-width="0.8" fill="none"/>
<path d="M603.38 229.4V233.54M602.18 229.4h2.4M602.18 233.54h2.4" stroke="#555555" stroke-width="0.8" fill="none"/>
<path d="M610.03 229.4V233.54M608.83 229.4h2.4M608.83 233.54h2.4" stroke="#555555" stroke-width="0.8" fill="none"/>
<path d="M616.67 224.74V228.88M615.47 224.74h2.4M615.47 228.88h2.4" stroke="#555555" stroke-width="0.8" fill="none"/>
<path d="M623.32 224.74V228.88M622.12 224.74h2.4M622.12 228.88h2.4" stroke="#555555" stroke-width="0.8" fill="none"/>
<path d="M629.97 223.7V227.84M628.77 223.7h2.4M628.77 227.84h2.4" stroke="#555555" stroke-width="0.8" fill="none"/>
<path d="M636.62 222.15V226.29M635.42 222.15h2.4M635.42 226.29h2.4" stroke="#555555" stroke-width="0.8" fill="none"/>
<path d="M643.26 222.15V226.29M642.06 222.15h2.4M642.06 226.29h2.4" stroke="#555555" stroke-width="0.8" fill="none"/>
<path d="M649.91 230.95V235.1M648.71 230.95h2.4M648.71 235.1h2.4" stroke="#555555" stroke-width="0.8" fill="none"/>
<path d="M656.56 233.7V237.84M655.36 233.7h2.4M655.36 237.84h2.4" stroke="#555555" stroke-width="0.8" fill="none"/>
<path d="M663.21 233.02V237.17M662.01 233.02h2.4M662.01 237.17h2.4" stroke="#555555" stroke-width="0.8" fill="none"/>
<path d="M669.85 230.95V235.1M668.65 230.95h2.4M668.65 235.1h2.4" stroke="#555555" stroke-width="0.8" fill="none"/>
<path d="M676.5 232.25V236.39M675.3 232.25h2.4M675.3 236.39h2.4" stroke="#555555" stroke-width="0.8" fill="none"/>
<path d="M550.2 229.4 L556.85 227.33 L563.49 228.1 L570.14 229.14 L576.79 228.1 L583.44 228.88 L590.08 233.54 L596.73 233.54 L603.38 231.47 L610.03 231.47 L616.67 226.81 L623.32 226.81 L629.97 225.77 L636.62 224.22 L643.26 224.22 L649.91 233.02 L656.56 235.77 L663.21 235.1 L669.85 233.02 L676.5 234.32" stroke="#111111" stroke-width="1" fill="none"/>
<circle cx="550.2" cy="229.4" r="1.3" fill="#111111"/>
<circle cx="556.85" cy="227.33" r="1.3" fill="#111111"/>
<circle cx="563.49" cy="228.1" r="1.3" fill="#111111"/>
<circle cx="570.14" cy="229.14" r="1.3" fill="#111111"/>
<circle cx="576.79" cy="228.1" r="1.3" fill="#111111"/>
<circle cx="583.44" cy="228.88" r="1.3" fill="#111111"/>
<circle cx="590.08" cy="233.54" r="1.3" fill="#111111"/>
<circle cx="596.73" cy="233.54" r="1.3" fill="#111111"/>
<circle cx="603.38" cy="231.47" r="1.3" fill="#111111"/>
<circle cx="610.03" cy="231.47" r="1.3" fill="#111111"/>
<circle cx="616.67" cy="226.81" r="1.3" fill="#111111"/>
<circle cx="623.32" cy="226.81" r="1.3" fill="#111111"/>
<circle cx="629.97" cy="225.77" r="1.3" fill="#111111"/>
<circle cx="636.62" cy="224.22" r="1.3" fill="#111111"/>
<circle cx="643.26" cy="224.22" r="1.3" fill="#111111"/>
<circle cx="649.91" cy="233.02" r="1.3" fill="#111111"/>
<circle cx="656.56" cy="235.77" r="1.3" fill="#111111"/>
<circle cx="663.21" cy="235.1" r="1.3" fill="#111111"/>
<circle cx="669.85" cy="233.02" r="1.3" fill="#111111"/>
<circle cx="676.5" cy="234.32" r="1.3" fill="#111111"/>
<path d="M550.2 211.79V222.15M549 211.79h2.4M549 222.15h2.4" stroke="#ff7070" stroke-width="0.8" fill="none"/>
<path d="M556.85 209.71V220.07M555.65 209.71h2.4M555.65 220.07h2.4" stroke="#ff7070" stroke-width="0.8" fill="none"/>
<path d="M563.49 213.34V223.7M562.29 213.34h2.4M562.29 223.7h2.4" stroke="#ff7070" stroke-width="0.8" fill="none"/>
<path d="M570.14 213.34V223.7M568.94 213.34h2.4M568.94 223.7h2.4" stroke="#ff7070" stroke-width="0.8" fill="none"/>
<path d="M576.79 212.82V223.18M575.59 212.82h2.4M575.59 223.18h2.4" stroke="#ff7070" stroke-width="0.8" fill="none"/>
<path d="M583.44 225.25V235.61M582.24 225.25h2.4M582.24 235.61h2.4" stroke="#ff7070" stroke-width="0.8" fill="none"/>
<path d="M590.08 223.7V234.06M588.88 223.7h2.4M588.88 234.06h2.4" stroke="#ff7070" stroke-width="0.8" fill="none"/>
<path d="M596.73 222.15V232.51M595.53 222.15h2.4M595.53 232.51h2.4" stroke="#ff7070" stroke-width="0.8" fill="none"/>
<path d="M603.38 223.44V233.8M602.18 223.44h2.4M602.18 233.8h2.4" stroke="#ff7070" stroke-width="0.8" fill="none"/>
<path d="M610.03 223.44V233.8M608.83 223.44h2.4M608.83 233.8h2.4" stroke="#ff7070" stroke-width="0.8" fill="none"/>
<path d="M616.67 212.82V223.18M615.47 212.82h2.4M615.47 223.18h2.4" stroke="#ff7070" stroke-width="0.8" fill="none"/>
<path d="M623.32 212.82V223.18M622.12 212.82h2.4M622.12 223.18h2.4" stroke="#ff7070" stroke-width="0.8" fill="none"/>
<path d="M629.97 214.63V225M628.77 214.63h2.4M628.77 225h2.4" stroke="#ff7070" stroke-width="0.8" fill="none"/>
<path d="M636.62 213.86V224.22M635.42 213.86h2.4M635.42 224.22h2.4" stroke="#ff7070" stroke-width="0.8" fill="none"/>
<path d="M643.26 213.86V224.22M642.06 213.86h2.4M642.06 224.22h2.4" stroke="#ff7070" stroke-width="0.8" fill="none"/>
<path d="M649.91 225.25V235.61M648.71 225.25h2.4M648.71 235.61h2.4" stroke="#ff7070" stroke-width="0.8" fill="none"/>
<path d="M656.56 225.77V236.13M655.36 225.77h2.4M655.36 236.13h2.4" stroke="#ff7070" stroke-width="0.8" fill="none"/>
<path d="M663.21 226.29V236.65M662.01 226.29h2.4M662.01 236.65h2.4" stroke="#ff7070" stroke-width="0.8" fill="none"/>
<path d="M669.85 225.77V236.13M668.65 225.77h2.4M668.65 236.13h2.4" stroke="#ff7070" stroke-width="0.8" fill="none"/>
<path d="M676.5 225.25V235.61M675.3 225.25h2.4M675.3 235.61h2.4" stroke="#ff7070" stroke-width="0.8" fill="none"/>
<path d="M550.2 216.97 L556.85 214.89 L563.49 218.52 L570.14 218.52 L576.79 218 L583.44 230.43 L590.08 228.88 L596.73 227.33 L603.38 228.62 L610.03 228.62 L616.67 218 L623.32 218 L629.97 219.81 L636.62 219.04 L643.26 219.04 L649.91 230.43 L656.56 230.95 L663.21 231.47 L669.85 230.95 L676.5 230.43" stroke="#ff1a1a" stroke-width="1" fill="none"/>
<circle cx="550.2" cy="216.97" r="1.3" fill="#ff1a1a"/>
<circle cx="556.85" cy="214.89" r="1.3" fill="#ff1a1a"/>
<circle cx="563.49" cy="218.52" r="1.3" fill="#ff1a1a"/>
<circle cx="570.14" cy="218.52" r="1.3" fill="#ff1a1a"/>
<circle cx="576.79" cy="218" r="1.3" fill="#ff1a1a"/>
<circle cx="583.44" cy="230.43" r="1.3" fill="#ff1a1a"/>
<circle cx="590.08" cy="228.88" r="1.3" fill="#ff1a1a"/>
<circle cx="596.73" cy="227.33" r="1.3" fill="#ff1a1a"/>
<circle cx="603.38" cy="228.62" r="1.3" fill="#ff1a1a"/>
<circle cx="610.03" cy="228.62" r="1.3" fill="#ff1a1a"/>
<circle cx="616.67" cy="218" r="1.3" fill="#ff1a1a"/>
<circle cx="623.32" cy="218" r="1.3" fill="#ff1a1a"/>
<circle cx="629.97" cy="219.81" r="1.3" fill="#ff1a1a"/>
<circle cx="636.62" cy="219.04" r="1.3" fill="#ff1a1a"/>
<circle cx="643.26" cy="219.04" r="1.3" fill="#ff1a1a"/>
<circle cx="649.91" cy="230.43" r="1.3" fill="#ff1a1a"/>
<circle cx="656.56" cy="230.95" r="1.3" fill="#ff1a1a"/>
<circle cx="663.21" cy="231.47" r="1.3" fill="#ff1a1a"/>
<circle cx="669.85" cy="230.95" r="1.3" fill="#ff1a1a"/>
<circle cx="676.5" cy="230.43" r="1.3" fill="#ff1a1a"/>
<path d="M550.2 223.18 L556.85 214.89 L563.49 216.71 L570.14 219.04 L576.79 219.81 L583.44 221.63 L590.08 221.11 L596.73 220.33 L603.38 218 L610.03 221.63 L616.67 218 L623.32 218 L629.97 219.81 L636.62 219.04 L643.26 219.81 L649.91 226.29 L656.56 226.81 L663.21 226.29 L669.85 225.25 L676.5 225.77" stroke="#1a1aff" stroke-width="1" fill="none"/>
<circle cx="550.2" cy="223.18" r="1.3" fill="#1a1aff"/>
<circle cx="556.85" cy="214.89" r="1.3" fill="#1a1aff"/>
<circle cx="563.49" cy="216.71" r="1.3" fill="#1a1aff"/>
<circle cx="570.14" cy="219.04" r="1.3" fill="#1a1aff"/>
<circle cx="576.79" cy="219.81" r="1.3" fill="#1a1aff"/>
<circle cx="583.44" cy="221.63" r="1.3" fill="#1a1aff"/>
<circle cx="590.08" cy="221.11" r="1.3" fill="#1a1aff"/>
<circle cx="596.73" cy="220.33" r="1.3" fill="#1a1aff"/>
<circle cx="603.38" cy="218" r="1.3" fill="#1a1aff"/>
<circle cx="610.03" cy="221.63" r="1.3" fill="#1a1aff"/>
<circle cx="616.67" cy="218" r="1.3" fill="#1a1aff"/>
<circle cx="623.32" cy="218" r="1.3" fill="#1a1aff"/>
<circle cx="629.97" cy="219.81" r="1.3" fill="#1a1aff"/>
<circle cx="636.62" cy="219.04" r="1.3" fill="#1a1aff"/>
<circle cx="643.26" cy="219.81" r="1.3" fill="#1a1aff"/>
<circle cx="649.91" cy="226.29" r="1.3" fill="#1a1aff"/>
<circle cx="656.56" cy="226.81" r="1.3" fill="#1a1aff"/>
<circle cx="663.21" cy="226.29" r="1.3" fill="#1a1aff"/>
<circle cx="669.85" cy="225.25" r="1.3" fill="#1a1aff"/>
<circle cx="676.5" cy="225.77" r="1.3" fill="#1a1aff"/>
<path d="M550.2 214.89V229.4M549 214.89h2.4M549 229.4h2.4" stroke="#70b0b0" stroke-width="0.8" fill="none"/>
<path d="M556.85 207.43V221.94M555.65 207.43h2.4M555.65 221.94h2.4" stroke="#70b0b0" stroke-width="0.8" fill="none"/>
<path d="M563.49 211.79V226.29M562.29 211.79h2.4M562.29 226.29h2.4" stroke="#70b0b0" stroke-width="0.8" fill="none"/>
<path d="M570.14 211.79V226.29M568.94 211.79h2.4M568.94 226.29h2.4" stroke="#70b0b0" stroke-width="0.8" fill="none"/>
<path d="M576.79 213.08V227.59M575.59 213.08h2.4M575.59 227.59h2.4" stroke="#70b0b0" stroke-width="0.8" fill="none"/>
<path d="M583.44 206.35V220.85M582.24 206.35h2.4M582.24 220.85h2.4" stroke="#70b0b0" stroke-width="0.8" fill="none"/>
<path d="M590.08 207.43V221.94M588.88 207.43h2.4M588.88 221.94h2.4" stroke="#70b0b0" stroke-width="0.8" fill="none"/>
<path d="M596.73 208.68V223.18M595.53 208.68h2.4M595.53 223.18h2.4" stroke="#70b0b0" stroke-width="0.8" fill="none"/>
<path d="M603.38 209.71V224.22M602.18 209.71h2.4M602.18 224.22h2.4" stroke="#70b0b0" stroke-width="0.8" fill="none"/>
<path d="M610.03 209.71V224.22M608.83 209.71h2.4M608.83 224.22h2.4" stroke="#70b0b0" stroke-width="0.8" fill="none"/>
<path d="M616.67 209.71V224.22M615.47 209.71h2.4M615.47 224.22h2.4" stroke="#70b0b0" stroke-width="0.8" fill="none"/>
<path d="M623.32 210.75V225.25M622.12 210.75h2.4M622.12 225.25h2.4" stroke="#70b0b0" stroke-width="0.8" fill="none"/>
<path d="M629.97 209.71V224.22M628.77 209.71h2.4M628.77 224.22h2.4" stroke="#70b0b0" stroke-width="0.8" fill="none"/>
<path d="M636.62 208.47V222.97M635.42 208.47h2.4M635.42 222.97h2.4" stroke="#70b0b0" stroke-width="0.8" fill="none"/>
<path d="M643.26 206.4V220.9M642.06 206.4h2.4M642.06 220.9h2.4" stroke="#70b0b0" stroke-width="0.8" fill="none"/>
<path d="M649.91 208.68V223.18M648.71 208.68h2.4M648.71 223.18h2.4" stroke="#70b0b0" stroke-width="0.8" fill="none"/>
<path d="M656.56 209.71V224.22M655.36 209.71h2.4M655.36 224.22h2.4" stroke="#70b0b0" stroke-width="0.8" fill="none"/>
<path d="M663.21 209.71V224.22M662.01 209.71h2.4M662.01 224.22h2.4" stroke="#70b0b0" stroke-width="0.8" fill="none"/>
<path d="M669.85 208.68V223.18M668.65 208.68h2.4M668.65 223.18h2.4" stroke="#70b0b0" stroke-width="0.8" fill="none"/>
<path d="M676.5 208.16V222.66M675.3 208.16h2.4M675.3 222.66h2.4" stroke="#70b0b0" stroke-width="0.8" fill="none"/>
<path d="M550.2 222.15 L556.85 214.69 L563.49 219.04 L570.14 219.04 L576.79 220.33 L583.44 213.6 L590.08 214.69 L596.73 215.93 L603.38 216.97 L610.03 216.97 L616.67 216.97 L623.32 218 L629.97 216.97 L636.62 215.72 L643.26 213.65 L649.91 215.93 L656.56 216.97 L663.21 216.97 L669.85 215.93 L676.5 215.41" stroke="#1a8c8c" stroke-width="1" fill="none"/>
<circle cx="550.2" cy="222.15" r="1.3" fill="#1a8c8c"/>
<circle cx="556.85" cy="214.69" r="1.3" fill="#1a8c8c"/>
<circle cx="563.49" cy="219.04" r="1.3" fill="#1a8c8c"/>
<circle cx="570.14" cy="219.04" r="1.3" fill="#1a8c8c"/>
<circle cx="576.79" cy="220.33" r="1.3" fill="#1a8c8c"/>
<circle cx="583.44" cy="213.6" r="1.3" fill="#1a8c8c"/>
<circle cx="590.08" cy="214.69" r="1.3" fill="#1a8c8c"/>
<circle cx="596.73" cy="215.93" r="1.3" fill="#1a8c8c"/>
<circle cx="603.38" cy="216.97" r="1.3" fill="#1a8c8c"/>
<circle cx="610.03" cy="216.97" r="1.3" fill="#1a8c8c"/>
<circle cx="616.67" cy="216.97" r="1.3" fill="#1a8c8c"/>
<circle cx="623.32" cy="218" r="1.3" fill="#1a8c8c"/>
<circle cx="629.97" cy="216.97" r="1.3" fill="#1a8c8c"/>
<circle cx="636.62" cy="215.72" r="1.3" fill="#1a8c8c"/>
<circle cx="643.26" cy="213.65" r="1.3" fill="#1a8c8c"/>
<circle cx="649.91" cy="215.93" r="1.3" fill="#1a8c8c"/>
<circle cx="656.56" cy="216.97" r="1.3" fill="#1a8c8c"/>
<circle cx="663.21" cy="216.97" r="1.3" fill="#1a8c8c"/>
<circle cx="669.85" cy="215.93" r="1.3" fill="#1a8c8c"/>
<circle cx="676.5" cy="215.41" r="1.3" fill="#1a8c8c"/>
<rect x="550.3" y="146" width="133" height="103.6" fill="none" stroke="#444444" stroke-width="1.25"/>
<line x1="550.3" y1="249.6" x2="550.3" y2="251.6" stroke="#444444" stroke-width="0.9"/>
<text x="550.3" y="257.6" font-size="6.1" text-anchor="middle" font-weight="bold" font-family='"Liberation Sans", sans-serif' fill="#000" stroke="#000" stroke-width="0.08">0</text>
<line x1="567.46" y1="249.6" x2="567.46" y2="251.6" stroke="#444444" stroke-width="0.9"/>
<text x="567.46" y="257.6" font-size="6.1" text-anchor="middle" font-weight="bold" font-family='"Liberation Sans", sans-serif' fill="#000" stroke="#000" stroke-width="0.08">20</text>
<line x1="584.62" y1="249.6" x2="584.62" y2="251.6" stroke="#444444" stroke-width="0.9"/>
<text x="584.62" y="257.6" font-size="6.1" text-anchor="middle" font-weight="bold" font-family='"Liberation Sans", sans-serif' fill="#000" stroke="#000" stroke-width="0.08">40</text>
<line x1="601.78" y1="249.6" x2="601.78" y2="251.6" stroke="#444444" stroke-width="0.9"/>
<text x="601.78" y="257.6" font-size="6.1" text-anchor="middle" font-weight="bold" font-family='"Liberation Sans", sans-serif' fill="#000" stroke="#000" stroke-width="0.08">60</text>
<line x1="618.94" y1="249.6" x2="618.94" y2="251.6" stroke="#444444" stroke-width="0.9"/>
<text x="618.94" y="257.6" font-size="6.1" text-anchor="middle" font-weight="bold" font-family='"Liberation Sans", sans-serif' fill="#000" stroke="#000" stroke-width="0.08">80</text>
<line x1="636.1" y1="249.6" x2="636.1" y2="251.6" stroke="#444444" stroke-width="0.9"/>
<text x="636.1" y="257.6" font-size="6.1" text-anchor="middle" font-weight="bold" font-family='"Liberation Sans", sans-serif' fill="#000" stroke="#000" stroke-width="0.08">100</text>
<line x1="653.26" y1="249.6" x2="653.26" y2="251.6" stroke="#444444" stroke-width="0.9"/>
<text x="653.26" y="257.6" font-size="6.1" text-anchor="middle" font-weight="bold" font-family='"Liberation Sans", sans-serif' fill="#000" stroke="#000" stroke-width="0.08">120</text>
<line x1="670.42" y1="249.6" x2="670.42" y2="251.6" stroke="#444444" stroke-width="0.9"/>
<text x="670.42" y="257.6" font-size="6.1" text-anchor="middle" font-weight="bold" font-family='"Liberation Sans", sans-serif' fill="#000" stroke="#000" stroke-width="0.08">140</text>
<line x1="550.3" y1="239.24" x2="552.1" y2="239.24" stroke="#444444" stroke-width="0.9"/>
<text x="548.4" y="241.19" font-size="6.1" text-anchor="end" font-weight="bold" font-family='"Liberation Sans", sans-serif' fill="#000" stroke="#000" stroke-width="0.08">0</text>
<line x1="550.3" y1="218.52" x2="552.1" y2="218.52" stroke="#444444" stroke-width="0.9"/>
<text x="548.4" y="220.47" font-size="6.1" text-anchor="end" font-weight="bold" font-family='"Liberation Sans", sans-serif' fill="#000" stroke="#000" stroke-width="0.08">40</text>
<line x1="550.3" y1="197.8" x2="552.1" y2="197.8" stroke="#444444" stroke-width="0.9"/>
<text x="548.4" y="199.75" font-size="6.1" text-anchor="end" font-weight="bold" font-family='"Liberation Sans", sans-serif' fill="#000" stroke="#000" stroke-width="0.08">80</text>
<line x1="550.3" y1="177.08" x2="552.1" y2="177.08" stroke="#444444" stroke-width="0.9"/>
<text x="548.4" y="179.03" font-size="6.1" text-anchor="end" font-weight="bold" font-family='"Liberation Sans", sans-serif' fill="#000" stroke="#000" stroke-width="0.08">120</text>
<line x1="550.3" y1="156.36" x2="552.1" y2="156.36" stroke="#444444" stroke-width="0.9"/>
<text x="548.4" y="158.31" font-size="6.1" text-anchor="end" font-weight="bold" font-family='"Liberation Sans", sans-serif' fill="#000" stroke="#000" stroke-width="0.08">160</text>
<text x="679.2" y="157" font-size="6.34" text-anchor="end" font-weight="bold" font-family='"Liberation Sans", sans-serif' fill="#000" textLength="55.2" lengthAdjust="spacingAndGlyphs">MDA-MB-231, 12 h</text>
<text x="535" y="200.7" font-size="6.4" text-anchor="middle" font-weight="bold" font-family='"Liberation Sans", sans-serif' fill="#000" transform="rotate(-90 535 200.7)" textLength="41.1" lengthAdjust="spacingAndGlyphs">OCR (pM/min)</text>
<text x="614.2" y="268.4" font-size="6.5" text-anchor="middle" font-weight="bold" font-family='"Liberation Sans", sans-serif' fill="#000" textLength="31.4" lengthAdjust="spacingAndGlyphs">Time (min)</text>
<rect x="44" y="9.3" width="46.9" height="26.1" fill="#000"/>
<rect x="42.7" y="7.9" width="46.9" height="26.1" fill="#fff" stroke="#777" stroke-width="0.6"/>
<line x1="43.5" y1="11.2" x2="54.9" y2="11.2" stroke="#111111" stroke-width="1"/>
<circle cx="49.2" cy="11.2" r="1.2" fill="#111111"/>
<text x="56.1" y="13.1" font-size="5.6" text-anchor="start" font-weight="bold" font-family='"Liberation Serif", serif' fill="#000" textLength="33" lengthAdjust="spacingAndGlyphs">MCF7_Control</text>
<line x1="43.5" y1="17.95" x2="54.9" y2="17.95" stroke="#ff1a1a" stroke-width="1"/>
<circle cx="49.2" cy="17.95" r="1.2" fill="#ff1a1a"/>
<text x="56.1" y="19.85" font-size="5.6" text-anchor="start" font-weight="bold" font-family='"Liberation Serif", serif' fill="#000" textLength="20.7" lengthAdjust="spacingAndGlyphs">IA, 5 μM</text>
<line x1="43.5" y1="24.7" x2="54.9" y2="24.7" stroke="#1a1aff" stroke-width="1"/>
<circle cx="49.2" cy="24.7" r="1.2" fill="#1a1aff"/>
<text x="56.1" y="26.6" font-size="5.6" text-anchor="start" font-weight="bold" font-family='"Liberation Serif", serif' fill="#000" textLength="23.8" lengthAdjust="spacingAndGlyphs">IA, 10 μM</text>
<line x1="43.5" y1="31.45" x2="54.9" y2="31.45" stroke="#1a8c8c" stroke-width="1"/>
<circle cx="49.2" cy="31.45" r="1.2" fill="#1a8c8c"/>
<text x="56.1" y="33.35" font-size="5.6" text-anchor="start" font-weight="bold" font-family='"Liberation Serif", serif' fill="#000" textLength="23.8" lengthAdjust="spacingAndGlyphs">IA, 20 μM</text>
<path d="M49.05 353.3V345.2M47.55 345.2h3" stroke="#444" stroke-width="0.7" fill="none"/>
<path d="M62.15 353.3V351.14M60.65 351.14h3" stroke="#444" stroke-width="0.7" fill="none"/>
<rect x="42.4" y="353.3" width="13.3" height="27" fill="#000"/>
<rect x="55.7" y="353.3" width="12.9" height="27" fill="#fff" stroke="#333" stroke-width="1"/>
<path d="M81.95 298.45V289.64M80.45 289.64h3" stroke="#444" stroke-width="0.7" fill="none"/>
<path d="M95.1 373.55V371.66M93.6 371.66h3" stroke="#444" stroke-width="0.7" fill="none"/>
<rect x="75.2" y="298.45" width="13.5" height="81.85" fill="#000"/>
<rect x="88.7" y="373.55" width="12.8" height="6.75" fill="#fff" stroke="#333" stroke-width="1"/>
<path d="M114.7 330.18V325.24M113.2 325.24h3" stroke="#444" stroke-width="0.7" fill="none"/>
<path d="M128.05 349.79V346.55M126.55 346.55h3" stroke="#444" stroke-width="0.7" fill="none"/>
<rect x="107.8" y="330.18" width="13.8" height="50.12" fill="#000"/>
<rect x="121.6" y="349.79" width="12.9" height="30.51" fill="#fff" stroke="#333" stroke-width="1"/>
<path d="M147.7 310.79V304.33M146.2 304.33h3" stroke="#444" stroke-width="0.7" fill="none"/>
<path d="M161 361.4V357.35M159.5 357.35h3" stroke="#444" stroke-width="0.7" fill="none"/>
<rect x="140.8" y="310.79" width="13.8" height="69.51" fill="#000"/>
<rect x="154.6" y="361.4" width="12.8" height="18.9" fill="#fff" stroke="#333" stroke-width="1"/>
<rect x="40.7" y="331.45" width="129" height="1.9" fill="#fff"/>
<rect x="39.7" y="284.4" width="131" height="95.9" fill="none" stroke="#111" stroke-width="1.1"/>
<path d="M37.4 333.8L42 331.5L42 333L37.4 335.3Z" fill="#fff" transform="translate(0 -1)"/>
<path d="M37.4 332.8L42 330.5M37.4 334.3L42 332" stroke="#222" stroke-width="0.8" fill="none"/>
<path d="M168.4 333.8L173 331.5L173 333L168.4 335.3Z" fill="#fff" transform="translate(0 -1)"/>
<path d="M168.4 332.8L173 330.5M168.4 334.3L173 332" stroke="#222" stroke-width="0.8" fill="none"/>
<line x1="39.7" y1="380.3" x2="41.5" y2="380.3" stroke="#111" stroke-width="0.8"/>
<text x="36.7" y="382.1" font-size="4.8" text-anchor="end" font-weight="normal" font-family='"Liberation Sans", sans-serif' fill="#000">0</text>
<line x1="39.7" y1="353.3" x2="41.5" y2="353.3" stroke="#111" stroke-width="0.8"/>
<text x="36.7" y="355.1" font-size="4.8" text-anchor="end" font-weight="normal" font-family='"Liberation Sans", sans-serif' fill="#000">100</text>
<line x1="39.7" y1="319.6" x2="41.5" y2="319.6" stroke="#111" stroke-width="0.8"/>
<text x="36.7" y="321.4" font-size="4.8" text-anchor="end" font-weight="normal" font-family='"Liberation Sans", sans-serif' fill="#000">400</text>
<line x1="39.7" y1="296.1" x2="41.5" y2="296.1" stroke="#111" stroke-width="0.8"/>
<text x="36.7" y="297.9" font-size="4.8" text-anchor="end" font-weight="normal" font-family='"Liberation Sans", sans-serif' fill="#000">600</text>
<line x1="55.7" y1="380.3" x2="55.7" y2="382.1" stroke="#111" stroke-width="0.8"/>
<text x="55.7" y="389" font-size="5.4" text-anchor="middle" font-weight="bold" font-family='"Liberation Sans", sans-serif' fill="#000">0</text>
<line x1="88.7" y1="380.3" x2="88.7" y2="382.1" stroke="#111" stroke-width="0.8"/>
<text x="89" y="389" font-size="5.4" text-anchor="middle" font-weight="bold" font-family='"Liberation Sans", sans-serif' fill="#000">5</text>
<line x1="121.6" y1="380.3" x2="121.6" y2="382.1" stroke="#111" stroke-width="0.8"/>
<text x="122" y="389" font-size="5.4" text-anchor="middle" font-weight="bold" font-family='"Liberation Sans", sans-serif' fill="#000">10</text>
<line x1="154.6" y1="380.3" x2="154.6" y2="382.1" stroke="#111" stroke-width="0.8"/>
<text x="154.4" y="389" font-size="5.4" text-anchor="middle" font-weight="bold" font-family='"Liberation Sans", sans-serif' fill="#000">20</text>
<text x="164" y="291.5" font-size="6.4" text-anchor="end" font-weight="bold" font-family='"Liberation Sans", sans-serif' fill="#000" textLength="9.2" lengthAdjust="spacingAndGlyphs">4 h</text>
<text x="24" y="328.4" font-size="6.4" text-anchor="middle" font-weight="bold" font-family='"Liberation Sans", sans-serif' fill="#000" transform="rotate(-90 24 328.4)" textLength="45.8" lengthAdjust="spacingAndGlyphs">% of Basal ECAR</text>
<text x="103.1" y="396.5" font-size="5.95" text-anchor="middle" font-weight="bold" font-family='"Liberation Sans", sans-serif' fill="#000" textLength="21.8" lengthAdjust="spacingAndGlyphs">[IA], μM</text>
<path d="M222 336.21V335.77M220.5 335.77h3" stroke="#444" stroke-width="0.7" fill="none"/>
<path d="M235.2 336.21V334.89M233.7 334.89h3" stroke="#444" stroke-width="0.7" fill="none"/>
<rect x="215.3" y="336.21" width="13.4" height="44.09" fill="#000"/>
<rect x="228.7" y="336.21" width="13" height="44.09" fill="#fff" stroke="#333" stroke-width="1"/>
<path d="M267.95 302.7V300.94M266.45 300.94h3" stroke="#444" stroke-width="0.7" fill="none"/>
<rect x="248.1" y="355.61" width="13.4" height="24.69" fill="#000"/>
<rect x="261.5" y="302.7" width="12.9" height="77.6" fill="#fff" stroke="#333" stroke-width="1"/>
<path d="M287.3 358.7V358.25M285.8 358.25h3" stroke="#444" stroke-width="0.7" fill="none"/>
<path d="M300.65 321.66V319.45M299.15 319.45h3" stroke="#444" stroke-width="0.7" fill="none"/>
<rect x="280.7" y="358.7" width="13.2" height="21.6" fill="#000"/>
<rect x="293.9" y="321.66" width="13.5" height="58.64" fill="#fff" stroke="#333" stroke-width="1"/>
<path d="M320.15 339.74V339.3M318.65 339.3h3" stroke="#444" stroke-width="0.7" fill="none"/>
<path d="M333.2 325.19V323.42M331.7 323.42h3" stroke="#444" stroke-width="0.7" fill="none"/>
<rect x="313.7" y="339.74" width="12.9" height="40.56" fill="#000"/>
<rect x="326.6" y="325.19" width="13.2" height="55.11" fill="#fff" stroke="#333" stroke-width="1"/>
<rect x="211.8" y="283.5" width="131.7" height="96.8" fill="none" stroke="#111" stroke-width="1.1"/>
<line x1="211.8" y1="380.3" x2="210" y2="380.3" stroke="#111" stroke-width="0.8"/>
<text x="208.8" y="382.1" font-size="5.9" text-anchor="end" font-weight="bold" font-family='"Liberation Sans", sans-serif' fill="#000">0</text>
<line x1="211.8" y1="362.66" x2="210" y2="362.66" stroke="#111" stroke-width="0.8"/>
<text x="208.8" y="364.46" font-size="5.9" text-anchor="end" font-weight="bold" font-family='"Liberation Sans", sans-serif' fill="#000">40</text>
<line x1="211.8" y1="345.03" x2="210" y2="345.03" stroke="#111" stroke-width="0.8"/>
<text x="208.8" y="346.83" font-size="5.9" text-anchor="end" font-weight="bold" font-family='"Liberation Sans", sans-serif' fill="#000">80</text>
<line x1="211.8" y1="327.39" x2="210" y2="327.39" stroke="#111" stroke-width="0.8"/>
<text x="208.8" y="329.19" font-size="5.9" text-anchor="end" font-weight="bold" font-family='"Liberation Sans", sans-serif' fill="#000">120</text>
<line x1="211.8" y1="309.75" x2="210" y2="309.75" stroke="#111" stroke-width="0.8"/>
<text x="208.8" y="311.55" font-size="5.9" text-anchor="end" font-weight="bold" font-family='"Liberation Sans", sans-serif' fill="#000">160</text>
<line x1="211.8" y1="292.12" x2="210" y2="292.12" stroke="#111" stroke-width="0.8"/>
<text x="208.8" y="293.92" font-size="5.9" text-anchor="end" font-weight="bold" font-family='"Liberation Sans", sans-serif' fill="#000">200</text>
<line x1="228.7" y1="380.3" x2="228.7" y2="382.1" stroke="#111" stroke-width="0.8"/>
<text x="228.4" y="391" font-size="5.4" text-anchor="middle" font-weight="bold" font-family='"Liberation Sans", sans-serif' fill="#000">0</text>
<line x1="261.5" y1="380.3" x2="261.5" y2="382.1" stroke="#111" stroke-width="0.8"/>
<text x="261.6" y="391" font-size="5.4" text-anchor="middle" font-weight="bold" font-family='"Liberation Sans", sans-serif' fill="#000">5</text>
<line x1="293.9" y1="380.3" x2="293.9" y2="382.1" stroke="#111" stroke-width="0.8"/>
<text x="294.8" y="391" font-size="5.4" text-anchor="middle" font-weight="bold" font-family='"Liberation Sans", sans-serif' fill="#000">10</text>
<line x1="326.6" y1="380.3" x2="326.6" y2="382.1" stroke="#111" stroke-width="0.8"/>
<text x="326.3" y="391" font-size="5.4" text-anchor="middle" font-weight="bold" font-family='"Liberation Sans", sans-serif' fill="#000">20</text>
<text x="336.1" y="290.7" font-size="6.2" text-anchor="end" font-weight="bold" font-family='"Liberation Sans", sans-serif' fill="#000" textLength="9" lengthAdjust="spacingAndGlyphs">4 h</text>
<text x="194.1" y="330.9" font-size="6.4" text-anchor="middle" font-weight="bold" font-family='"Liberation Sans", sans-serif' fill="#000" transform="rotate(-90 194.1 330.9)" textLength="44.3" lengthAdjust="spacingAndGlyphs">% of Basal OCR</text>
<text x="276" y="399.5" font-size="5.95" text-anchor="middle" font-weight="bold" font-family='"Liberation Sans", sans-serif' fill="#000" textLength="21.9" lengthAdjust="spacingAndGlyphs">[IA], μM</text>
<path d="M388.45 314.67V304.05M386.95 304.05h3" stroke="#444" stroke-width="0.7" fill="none"/>
<path d="M401.2 314.67V308.03M399.7 308.03h3" stroke="#444" stroke-width="0.7" fill="none"/>
<rect x="382.1" y="314.67" width="12.7" height="66.33" fill="#000"/>
<rect x="394.8" y="314.67" width="12.8" height="66.33" fill="#fff" stroke="#333" stroke-width="1"/>
<path d="M420.7 325.94V310.02M419.2 310.02h3" stroke="#444" stroke-width="0.7" fill="none"/>
<path d="M433.95 350.49V347.17M432.45 347.17h3" stroke="#444" stroke-width="0.7" fill="none"/>
<rect x="414" y="325.94" width="13.4" height="55.06" fill="#000"/>
<rect x="427.4" y="350.49" width="13.1" height="30.51" fill="#fff" stroke="#333" stroke-width="1"/>
<path d="M453.1 364.08V357.78M451.6 357.78h3" stroke="#444" stroke-width="0.7" fill="none"/>
<path d="M466.15 349.16V337.88M464.65 337.88h3" stroke="#444" stroke-width="0.7" fill="none"/>
<rect x="446.5" y="364.08" width="13.2" height="16.92" fill="#000"/>
<rect x="459.7" y="349.16" width="12.9" height="31.84" fill="#fff" stroke="#333" stroke-width="1"/>
<path d="M485.8 379.67V379.01M484.3 379.01h3" stroke="#444" stroke-width="0.7" fill="none"/>
<rect x="479.1" y="379.67" width="13.4" height="1.33" fill="#000"/>
<rect x="492.5" y="380.67" width="13.2" height="0.33" fill="#fff" stroke="#333" stroke-width="1"/>
<rect x="378.6" y="281.5" width="129.6" height="99.5" fill="none" stroke="#111" stroke-width="1.1"/>
<line x1="378.6" y1="381" x2="380.4" y2="381" stroke="#111" stroke-width="0.8"/>
<text x="375.6" y="382.8" font-size="5.8" text-anchor="end" font-weight="bold" font-family='"Liberation Sans", sans-serif' fill="#000">0</text>
<line x1="378.6" y1="361.1" x2="380.4" y2="361.1" stroke="#111" stroke-width="0.8"/>
<text x="375.6" y="362.9" font-size="5.8" text-anchor="end" font-weight="bold" font-family='"Liberation Sans", sans-serif' fill="#000">30</text>
<line x1="378.6" y1="341.2" x2="380.4" y2="341.2" stroke="#111" stroke-width="0.8"/>
<text x="375.6" y="343" font-size="5.8" text-anchor="end" font-weight="bold" font-family='"Liberation Sans", sans-serif' fill="#000">60</text>
<line x1="378.6" y1="321.3" x2="380.4" y2="321.3" stroke="#111" stroke-width="0.8"/>
<text x="375.6" y="323.1" font-size="5.8" text-anchor="end" font-weight="bold" font-family='"Liberation Sans", sans-serif' fill="#000">90</text>
<line x1="378.6" y1="301.4" x2="380.4" y2="301.4" stroke="#111" stroke-width="0.8"/>
<text x="375.6" y="303.2" font-size="5.8" text-anchor="end" font-weight="bold" font-family='"Liberation Sans", sans-serif' fill="#000">120</text>
<line x1="378.6" y1="281.5" x2="380.4" y2="281.5" stroke="#111" stroke-width="0.8"/>
<text x="375.6" y="283.3" font-size="5.8" text-anchor="end" font-weight="bold" font-family='"Liberation Sans", sans-serif' fill="#000">150</text>
<line x1="394.8" y1="381" x2="394.8" y2="382.8" stroke="#111" stroke-width="0.8"/>
<text x="393.9" y="391.2" font-size="6" text-anchor="middle" font-weight="bold" font-family='"Liberation Sans", sans-serif' fill="#000" stroke="#000" stroke-width="0.1">0</text>
<line x1="427.4" y1="381" x2="427.4" y2="382.8" stroke="#111" stroke-width="0.8"/>
<text x="427.4" y="391.2" font-size="6" text-anchor="middle" font-weight="bold" font-family='"Liberation Sans", sans-serif' fill="#000" stroke="#000" stroke-width="0.1">5</text>
<line x1="459.7" y1="381" x2="459.7" y2="382.8" stroke="#111" stroke-width="0.8"/>
<text x="460.3" y="391.2" font-size="6" text-anchor="middle" font-weight="bold" font-family='"Liberation Sans", sans-serif' fill="#000" stroke="#000" stroke-width="0.1">10</text>
<line x1="492.5" y1="381" x2="492.5" y2="382.8" stroke="#111" stroke-width="0.8"/>
<text x="492" y="391.2" font-size="6" text-anchor="middle" font-weight="bold" font-family='"Liberation Sans", sans-serif' fill="#000" stroke="#000" stroke-width="0.1">20</text>
<text x="500.3" y="290.7" font-size="5.95" text-anchor="end" font-weight="bold" font-family='"Liberation Sans", sans-serif' fill="#000" textLength="11.9" lengthAdjust="spacingAndGlyphs">12 h</text>
<text x="363.6" y="330.9" font-size="6.4" text-anchor="middle" font-weight="bold" font-family='"Liberation Sans", sans-serif' fill="#000" transform="rotate(-90 363.6 330.9)" textLength="49.7" lengthAdjust="spacingAndGlyphs">% of Basal ECAR</text>
<text x="439.3" y="400" font-size="5.95" text-anchor="middle" font-weight="bold" font-family='"Liberation Sans", sans-serif' fill="#000" textLength="21.8" lengthAdjust="spacingAndGlyphs">[IA], μM</text>
<path d="M574.05 335.1V334.2M572.55 334.2h3" stroke="#444" stroke-width="0.7" fill="none"/>
<rect x="554" y="335.1" width="13.5" height="45" fill="#000"/>
<rect x="567.5" y="335.1" width="13.1" height="45" fill="#fff" stroke="#333" stroke-width="1"/>
<path d="M606.7 291.45V289.65M605.2 289.65h3" stroke="#444" stroke-width="0.7" fill="none"/>
<rect x="586.9" y="367.95" width="13.4" height="12.15" fill="#000"/>
<rect x="600.3" y="291.45" width="12.8" height="88.65" fill="#fff" stroke="#333" stroke-width="1"/>
<path d="M640.15 296.4V290.1M638.65 290.1h3" stroke="#444" stroke-width="0.7" fill="none"/>
<rect x="620.3" y="370.65" width="13.1" height="9.45" fill="#000"/>
<rect x="633.4" y="296.4" width="13.5" height="83.7" fill="#fff" stroke="#333" stroke-width="1"/>
<path d="M673.15 298.2V293.7M671.65 293.7h3" stroke="#444" stroke-width="0.7" fill="none"/>
<rect x="653.7" y="360.75" width="12.6" height="19.35" fill="#000"/>
<rect x="666.3" y="298.2" width="13.7" height="81.9" fill="#fff" stroke="#333" stroke-width="1"/>
<rect x="551" y="281.2" width="132.5" height="98.9" fill="none" stroke="#111" stroke-width="1.1"/>
<line x1="551" y1="380.1" x2="552.8" y2="380.1" stroke="#111" stroke-width="0.8"/>
<text x="548" y="381.9" font-size="5.1" text-anchor="end" font-weight="normal" font-family='"Liberation Sans", sans-serif' fill="#000">0</text>
<line x1="551" y1="362.1" x2="552.8" y2="362.1" stroke="#111" stroke-width="0.8"/>
<text x="548" y="363.9" font-size="5.1" text-anchor="end" font-weight="normal" font-family='"Liberation Sans", sans-serif' fill="#000">40</text>
<line x1="551" y1="344.1" x2="552.8" y2="344.1" stroke="#111" stroke-width="0.8"/>
<text x="548" y="345.9" font-size="5.1" text-anchor="end" font-weight="normal" font-family='"Liberation Sans", sans-serif' fill="#000">80</text>
<line x1="551" y1="326.1" x2="552.8" y2="326.1" stroke="#111" stroke-width="0.8"/>
<text x="548" y="327.9" font-size="5.1" text-anchor="end" font-weight="normal" font-family='"Liberation Sans", sans-serif' fill="#000">120</text>
<line x1="551" y1="308.1" x2="552.8" y2="308.1" stroke="#111" stroke-width="0.8"/>
<text x="548" y="309.9" font-size="5.1" text-anchor="end" font-weight="normal" font-family='"Liberation Sans", sans-serif' fill="#000">160</text>
<line x1="551" y1="290.1" x2="552.8" y2="290.1" stroke="#111" stroke-width="0.8"/>
<text x="548" y="291.9" font-size="5.1" text-anchor="end" font-weight="normal" font-family='"Liberation Sans", sans-serif' fill="#000">200</text>
<line x1="567.5" y1="380.1" x2="567.5" y2="381.9" stroke="#111" stroke-width="0.8"/>
<text x="567.1" y="389" font-size="5.4" text-anchor="middle" font-weight="bold" font-family='"Liberation Sans", sans-serif' fill="#000">0</text>
<line x1="600.3" y1="380.1" x2="600.3" y2="381.9" stroke="#111" stroke-width="0.8"/>
<text x="600.9" y="389" font-size="5.4" text-anchor="middle" font-weight="bold" font-family='"Liberation Sans", sans-serif' fill="#000">5</text>
<line x1="633.4" y1="380.1" x2="633.4" y2="381.9" stroke="#111" stroke-width="0.8"/>
<text x="634.1" y="389" font-size="5.4" text-anchor="middle" font-weight="bold" font-family='"Liberation Sans", sans-serif' fill="#000">10</text>
<line x1="666.3" y1="380.1" x2="666.3" y2="381.9" stroke="#111" stroke-width="0.8"/>
<text x="666.3" y="389" font-size="5.4" text-anchor="middle" font-weight="bold" font-family='"Liberation Sans", sans-serif' fill="#000">20</text>
<text x="679.9" y="288.5" font-size="5.95" text-anchor="end" font-weight="bold" font-family='"Liberation Sans", sans-serif' fill="#000" textLength="12" lengthAdjust="spacingAndGlyphs">12 h</text>
<text x="534.8" y="330.4" font-size="6.4" text-anchor="middle" font-weight="bold" font-family='"Liberation Sans", sans-serif' fill="#000" transform="rotate(-90 534.8 330.4)" textLength="44.8" lengthAdjust="spacingAndGlyphs">% of Basal OCR</text>
<text x="614.8" y="398.7" font-size="5.95" text-anchor="middle" font-weight="bold" font-family='"Liberation Sans", sans-serif' fill="#000" textLength="22.2" lengthAdjust="spacingAndGlyphs">[IA], μM</text>
<rect x="217.5" y="286.1" width="50.2" height="12.5" fill="#000"/>
<rect x="216.5" y="285.1" width="50.2" height="12.5" fill="#fff" stroke="#222" stroke-width="0.6"/>
<rect x="217.5" y="285.8" width="11.2" height="4.9" fill="#000"/>
<rect x="217.5" y="291.7" width="11.2" height="5.1" fill="#fff" stroke="#000" stroke-width="0.6"/>
<text x="230.1" y="289.8" font-size="5" text-anchor="start" font-weight="bold" font-family='"Liberation Sans", sans-serif' fill="#000" textLength="13.6" lengthAdjust="spacingAndGlyphs">MCF7</text>
<text x="230.1" y="295.8" font-size="5" text-anchor="start" font-weight="bold" font-family='"Liberation Sans", sans-serif' fill="#000" textLength="32" lengthAdjust="spacingAndGlyphs">MDA-MB-231</text>
</svg></body></html>
